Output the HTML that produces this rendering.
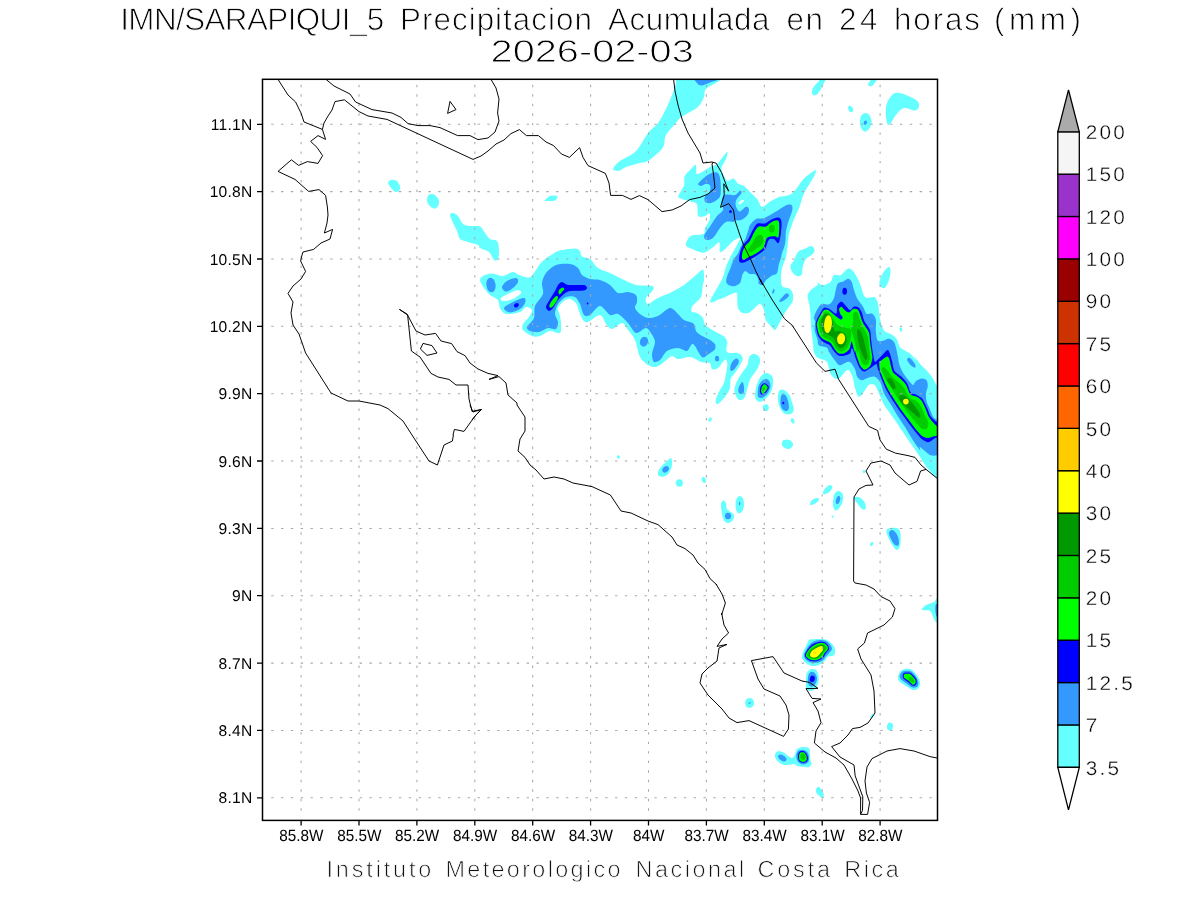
<!DOCTYPE html>
<html lang="es"><head><meta charset="utf-8"><title>IMN/SARAPIQUI_5 Precipitacion Acumulada en 24 horas (mm)</title>
<style>html,body{margin:0;padding:0;background:#fff}body{width:1200px;height:900px;overflow:hidden}</style></head>
<body>
<svg width="1200" height="900" viewBox="0 0 1200 900" style="display:block;font-family:'Liberation Sans',sans-serif;text-rendering:geometricPrecision;will-change:transform">
<rect width="1200" height="900" fill="#fff"/>
<defs><clipPath id="fc"><rect x="262.5" y="79.3" width="675.0" height="741.1"/></clipPath></defs>
<g clip-path="url(#fc)">
<g fill="#66FFFF">
<path d="M388.0 183.0 C387.8 181.5 389.7 180.4 391.0 180.0 C392.3 179.6 394.6 179.6 396.0 180.4 C397.4 181.2 399.0 183.4 399.6 185.0 C400.2 186.6 400.2 188.8 399.6 190.0 C399.0 191.2 397.3 192.2 396.0 192.0 C394.7 191.8 393.3 190.5 392.0 189.0 C390.7 187.5 388.2 184.5 388.0 183.0Z"/>
<path d="M427.0 199.0 C427.2 197.6 427.8 195.4 429.0 194.6 C430.2 193.8 432.4 193.7 434.0 194.4 C435.6 195.1 437.6 197.2 438.4 199.0 C439.2 200.8 439.2 203.4 438.6 205.0 C438.0 206.6 436.3 208.3 435.0 208.6 C433.7 208.9 432.2 207.9 431.0 207.0 C429.8 206.1 428.3 204.3 427.6 203.0 C426.9 201.7 426.8 200.4 427.0 199.0Z"/>
<path d="M450.0 215.0 C450.0 213.3 451.7 212.8 453.0 213.0 C454.3 213.2 456.3 214.2 458.0 216.0 C459.7 217.8 461.0 222.3 463.0 224.0 C465.0 225.7 467.2 225.6 470.0 226.0 C472.8 226.4 477.5 225.4 480.0 226.6 C482.5 227.8 483.3 230.9 485.0 233.0 C486.7 235.1 488.0 237.7 490.0 239.0 C492.0 240.3 495.5 239.2 497.0 241.0 C498.5 242.8 498.8 247.0 499.0 250.0 C499.2 253.0 498.8 257.3 498.0 259.0 C497.2 260.7 495.5 261.2 494.0 260.0 C492.5 258.8 491.3 254.0 489.0 252.0 C486.7 250.0 481.8 249.2 480.0 248.0 C478.2 246.8 480.0 246.0 478.0 245.0 C476.0 244.0 471.0 243.0 468.0 242.0 C465.0 241.0 461.8 240.8 460.0 239.0 C458.2 237.2 458.2 233.7 457.0 231.0 C455.8 228.3 454.2 225.7 453.0 223.0 C451.8 220.3 450.0 216.7 450.0 215.0Z"/>
<path d="M545.0 200.0 C545.7 199.2 548.0 196.7 550.0 196.0 C552.0 195.3 556.2 195.2 557.0 196.0 C557.8 196.8 556.8 199.8 555.0 200.6 C553.2 201.4 547.7 201.1 546.0 201.0 C544.3 200.9 544.3 200.8 545.0 200.0Z"/>
<path d="M553.0 255.0 C553.0 253.3 556.0 251.6 560.0 250.6 C564.0 249.6 573.5 248.3 577.0 249.0 C580.5 249.7 580.8 253.0 581.0 255.0 C581.2 257.0 581.5 260.0 578.0 261.0 C574.5 262.0 564.2 262.0 560.0 261.0 C555.8 260.0 553.0 256.7 553.0 255.0Z"/>
<path d="M613.4 168.0 C614.2 166.4 616.2 163.8 620.0 161.0 C623.8 158.2 631.3 155.7 636.0 151.0 C640.7 146.3 644.3 137.7 648.0 133.0 C651.7 128.3 655.0 127.0 658.0 123.0 C661.0 119.0 663.7 113.7 666.0 109.0 C668.3 104.3 670.3 99.3 672.0 95.0 C673.7 90.7 675.0 87.0 676.0 83.0 C677.0 79.0 670.3 73.0 678.0 71.0 C685.7 69.0 715.0 69.5 722.0 71.0 C729.0 72.5 722.7 77.0 720.0 80.0 C717.3 83.0 708.7 86.2 706.0 89.0 C703.3 91.8 705.3 94.0 704.0 97.0 C702.7 100.0 700.7 104.3 698.0 107.0 C695.3 109.7 691.0 111.2 688.0 113.0 C685.0 114.8 682.0 116.3 680.0 118.0 C678.0 119.7 678.3 120.2 676.0 123.0 C673.7 125.8 668.0 131.3 666.0 135.0 C664.0 138.7 665.0 142.3 664.0 145.0 C663.0 147.7 662.7 148.3 660.0 151.0 C657.3 153.7 651.3 159.0 648.0 161.0 C644.7 163.0 643.7 162.0 640.0 163.0 C636.3 164.0 629.3 165.7 626.0 167.0 C622.7 168.3 621.8 170.0 620.0 170.6 C618.2 171.2 616.1 171.0 615.0 170.6 C613.9 170.2 612.6 169.6 613.4 168.0Z"/>
<path d="M812.0 93.0 C811.8 91.6 812.4 89.0 813.6 87.0 C814.8 85.0 817.4 83.2 819.0 81.0 C820.6 78.8 821.5 75.2 823.0 74.0 C824.5 72.8 827.8 72.5 828.0 74.0 C828.2 75.5 825.5 80.0 824.0 83.0 C822.5 86.0 820.5 89.9 819.0 92.0 C817.5 94.1 816.2 95.2 815.0 95.4 C813.8 95.6 812.2 94.4 812.0 93.0Z"/>
<path d="M868.0 85.0 C867.7 84.2 869.0 82.3 870.0 81.0 C871.0 79.7 872.3 78.2 874.0 77.0 C875.7 75.8 879.7 73.3 880.0 74.0 C880.3 74.7 877.3 79.0 876.0 81.0 C874.7 83.0 873.3 85.3 872.0 86.0 C870.7 86.7 868.3 85.8 868.0 85.0Z"/>
<ellipse cx="850.6" cy="109.0" rx="2.3" ry="3.4" transform="rotate(-20 850.6 109.0)"/>
<path d="M860.0 123.0 C859.9 120.8 860.1 117.7 861.0 116.0 C861.9 114.3 864.1 113.0 865.6 113.0 C867.1 113.0 869.0 114.3 870.0 116.0 C871.0 117.7 871.8 120.8 871.6 123.0 C871.4 125.2 870.1 127.6 869.0 129.0 C867.9 130.4 866.2 131.6 865.0 131.6 C863.8 131.6 862.4 130.4 861.6 129.0 C860.8 127.6 860.1 125.2 860.0 123.0Z"/>
<path d="M887.0 123.0 C886.3 120.2 885.2 111.7 886.0 107.0 C886.8 102.3 889.7 97.3 892.0 95.0 C894.3 92.7 896.0 92.2 900.0 93.0 C904.0 93.8 912.8 97.8 916.0 100.0 C919.2 102.2 919.2 104.2 919.0 106.0 C918.8 107.8 917.5 110.3 915.0 110.6 C912.5 110.9 907.2 107.3 904.0 108.0 C900.8 108.7 898.3 112.3 896.0 115.0 C893.7 117.7 891.5 122.7 890.0 124.0 C888.5 125.3 887.7 125.8 887.0 123.0Z"/>
<path d="M679.5 198.0 C678.0 197.1 678.1 196.9 678.8 195.0 C679.4 193.1 683.1 188.1 684.0 185.2 C684.9 182.4 683.5 178.9 684.8 176.2 C686.0 173.6 690.6 169.4 692.2 167.7 C693.9 166.0 695.3 164.1 696.0 165.0 C696.7 165.9 695.6 173.1 696.8 174.0 C697.9 174.9 701.4 172.1 703.5 171.0 C705.6 169.9 709.0 167.5 711.0 166.5 C713.0 165.5 715.2 165.7 717.0 164.2 C718.8 162.8 721.4 158.6 723.0 156.8 C724.6 154.9 727.0 151.5 727.5 151.8 C728.0 152.1 726.9 156.6 726.0 159.0 C725.1 161.4 721.8 165.5 721.5 168.0 C721.2 170.5 722.9 173.6 723.8 175.5 C724.6 177.4 726.0 180.3 727.5 180.8 C729.0 181.2 731.9 178.1 733.5 178.5 C735.1 178.9 736.4 182.6 738.0 183.8 C739.6 184.9 742.0 184.5 744.0 186.0 C746.0 187.5 749.5 191.5 751.5 193.5 C753.5 195.5 755.9 197.5 757.5 199.5 C759.1 201.5 760.0 206.8 762.0 207.0 C764.0 207.2 768.5 202.5 771.0 201.0 C773.5 199.5 775.8 198.2 778.5 197.2 C781.2 196.3 786.5 196.0 789.0 195.0 C791.5 194.0 792.8 193.0 795.0 190.5 C797.2 188.0 801.0 181.5 804.0 178.5 C807.0 175.5 813.7 170.7 815.2 170.2 C816.8 169.8 816.2 172.0 814.5 175.5 C812.8 179.0 806.2 188.8 804.0 193.5 C801.8 198.2 801.1 202.9 799.5 207.0 C797.9 211.1 795.1 216.4 793.5 220.5 C791.9 224.6 789.9 229.9 789.0 234.0 C788.1 238.1 788.0 243.9 787.5 247.5 C787.0 251.1 786.5 255.2 785.7 258.2 C784.9 261.2 782.9 264.7 782.2 267.5 C781.5 270.3 781.0 274.0 781.0 276.8 C781.0 279.6 780.9 284.4 782.2 286.2 C783.4 287.9 787.6 287.4 789.2 288.5 C790.7 289.6 792.1 291.2 792.7 293.2 C793.2 295.1 793.4 299.1 792.7 301.3 C792.0 303.6 789.4 306.2 788.0 308.3 C786.6 310.4 784.6 313.2 783.3 315.3 C782.1 317.4 781.1 320.1 779.8 322.3 C778.6 324.5 776.6 329.4 775.2 329.9 C773.8 330.4 771.9 327.3 770.5 325.8 C769.1 324.3 766.7 321.9 765.8 320.0 C765.0 318.1 765.2 315.1 764.7 313.0 C764.1 310.9 763.2 307.3 762.3 306.0 C761.5 304.7 760.2 303.7 758.8 304.2 C757.4 304.8 754.6 308.2 753.0 309.5 C751.4 310.8 750.1 312.6 748.3 313.0 C746.6 313.4 742.9 313.3 741.3 312.4 C739.8 311.5 738.4 309.2 737.8 307.2 C737.2 305.2 737.4 301.2 737.2 299.0 C737.1 296.8 737.6 293.3 736.7 292.6 C735.7 291.9 732.8 293.5 730.8 294.3 C728.9 295.1 725.9 297.0 723.8 297.8 C721.7 298.7 718.6 299.5 716.8 300.2 C715.1 300.9 713.1 302.5 712.2 302.5 C711.2 302.5 709.7 302.3 710.4 300.2 C711.1 298.1 715.0 291.8 716.8 288.5 C718.7 285.2 721.3 281.3 722.7 278.0 C724.1 274.7 724.9 269.5 726.2 266.3 C727.4 263.2 730.9 255.8 730.8 257.0 C730.8 258.2 726.5 273.4 726.0 274.5 C725.5 275.6 726.8 266.7 727.5 264.0 C728.2 261.3 729.1 259.2 730.5 256.5 C731.9 253.8 735.0 248.8 736.5 246.0 C738.0 243.2 740.7 238.5 740.2 237.8 C739.8 237.0 735.6 239.2 733.5 240.8 C731.4 242.3 728.0 246.6 726.0 248.2 C724.0 249.9 721.0 252.9 720.0 252.0 C719.0 251.1 720.4 242.9 719.2 242.2 C718.1 241.6 714.9 245.9 712.5 247.5 C710.1 249.1 706.5 252.5 703.5 252.8 C700.5 253.0 694.8 250.0 692.2 249.0 C689.7 248.0 687.0 247.2 686.2 246.0 C685.5 244.8 686.2 242.3 687.0 240.8 C687.8 239.2 689.0 236.5 691.5 235.5 C694.0 234.5 701.5 235.1 703.5 234.0 C705.5 232.9 704.1 230.0 705.0 228.0 C705.9 226.0 708.8 222.8 709.5 220.5 C710.2 218.2 710.2 213.7 709.5 213.0 C708.8 212.3 706.7 215.6 705.0 216.0 C703.3 216.4 699.5 217.8 698.2 216.0 C697.0 214.2 698.2 206.2 696.8 204.0 C695.3 201.8 691.1 201.9 688.5 201.0 C685.9 200.1 681.0 198.9 679.5 198.0Z"/>
<path d="M790.5 265.5 C790.8 263.8 792.2 263.2 793.5 261.0 C794.8 258.8 796.2 254.0 798.0 252.0 C799.8 250.0 801.8 250.0 804.0 249.0 C806.2 248.0 809.8 245.8 811.5 246.0 C813.2 246.2 814.5 249.0 814.5 250.5 C814.5 252.0 813.0 253.5 811.5 255.0 C810.0 256.5 807.0 257.2 805.5 259.5 C804.0 261.8 803.1 266.0 802.5 268.5 C801.9 271.0 802.8 273.2 801.8 274.5 C800.8 275.8 798.1 276.5 796.5 276.0 C794.9 275.5 793.0 273.2 792.0 271.5 C791.0 269.8 790.2 267.2 790.5 265.5Z"/>
<path d="M480.0 280.0 C479.9 278.2 481.2 277.0 483.0 276.0 C484.8 275.0 489.1 273.6 492.0 273.6 C494.9 273.6 498.9 276.2 502.0 276.0 C505.1 275.8 510.3 272.1 513.0 272.0 C515.7 271.9 517.6 274.8 520.0 275.6 C522.4 276.4 526.9 278.0 529.0 277.6 C531.1 277.2 532.4 275.0 534.0 273.0 C535.6 271.0 537.9 266.4 540.0 264.0 C542.1 261.6 545.0 258.9 548.0 257.0 C551.0 255.1 555.6 252.2 560.0 251.0 C564.4 249.8 573.9 248.2 577.0 249.0 C580.1 249.8 579.0 254.5 581.0 256.0 C583.0 257.5 587.5 257.2 590.0 259.0 C592.5 260.8 595.0 265.9 598.0 268.0 C601.0 270.1 606.4 271.4 610.0 273.0 C613.6 274.6 618.1 277.2 622.0 279.0 C625.9 280.8 631.5 283.9 636.0 285.0 C640.5 286.1 649.5 285.2 652.0 286.0 C654.5 286.8 653.9 288.2 653.0 290.0 C652.1 291.8 646.8 295.9 646.0 298.0 C645.2 300.1 646.2 304.0 648.0 304.0 C649.8 304.0 654.7 299.6 658.0 298.0 C661.3 296.4 666.1 294.9 670.0 293.0 C673.9 291.1 680.1 287.7 684.0 285.0 C687.9 282.3 693.1 277.3 696.0 275.0 C698.9 272.7 701.8 268.9 703.0 269.6 C704.2 270.4 704.0 277.7 704.0 280.0 C704.0 282.3 703.3 282.5 702.8 285.0 C702.4 287.5 702.3 293.9 701.1 296.7 C699.9 299.5 696.1 302.1 694.7 303.7 C693.3 305.2 692.2 305.9 691.8 307.2 C691.3 308.4 691.0 311.0 691.8 311.8 C692.5 312.7 695.3 312.1 697.0 313.0 C698.7 313.9 701.6 315.9 702.8 317.7 C704.1 319.4 703.6 322.7 705.2 324.7 C706.7 326.6 710.5 328.8 713.3 330.5 C716.1 332.2 721.7 334.6 723.8 336.3 C725.9 338.1 727.0 340.2 727.3 342.2 C727.7 344.1 726.2 349.5 726.2 349.2 C726.2 348.8 727.3 340.0 727.3 340.0 C727.3 340.0 726.0 347.4 726.2 349.3 C726.3 351.3 726.9 352.3 728.5 352.8 C730.1 353.4 734.7 352.5 736.7 352.8 C738.6 353.2 740.5 354.1 741.3 355.2 C742.2 356.2 742.9 358.1 742.5 359.8 C742.1 361.6 740.2 364.7 739.0 366.8 C737.8 368.9 735.6 372.1 734.3 373.8 C733.1 375.6 731.5 376.2 730.8 378.5 C730.1 380.8 730.7 386.0 729.7 389.0 C728.6 392.0 725.7 396.1 723.8 398.3 C722.0 400.6 718.6 403.8 717.4 404.2 C716.2 404.5 715.4 402.6 715.7 400.7 C715.9 398.7 717.9 394.0 719.2 391.3 C720.4 388.7 722.8 386.0 723.8 383.2 C724.9 380.4 725.6 375.6 726.2 372.7 C726.7 369.7 727.5 365.3 727.3 363.3 C727.2 361.4 726.4 359.1 725.0 359.8 C723.6 360.5 719.9 366.6 718.0 368.0 C716.1 369.4 713.4 369.9 712.2 369.2 C710.9 368.5 711.4 364.4 709.8 363.3 C708.3 362.3 703.9 362.9 701.7 362.2 C699.4 361.5 696.4 359.5 694.7 358.7 C692.9 357.8 689.2 356.0 690.0 356.3 C690.8 356.7 700.0 360.9 700.0 361.0 C700.0 361.1 693.3 357.3 690.0 357.0 C686.7 356.7 680.7 359.1 678.0 359.0 C675.3 358.9 674.1 355.6 672.0 356.0 C669.9 356.4 666.4 360.4 664.0 362.0 C661.6 363.6 658.4 366.6 656.0 367.0 C653.6 367.4 650.4 366.5 648.0 365.0 C645.6 363.5 642.0 360.8 640.0 357.0 C638.0 353.2 636.8 344.1 635.0 340.0 C633.2 335.9 630.0 332.6 628.0 330.0 C626.0 327.4 624.4 323.1 622.0 323.0 C619.6 322.9 614.4 328.9 612.0 329.0 C609.6 329.1 607.8 326.1 606.0 324.0 C604.2 321.9 602.7 315.3 600.0 315.0 C597.3 314.7 590.5 321.2 588.0 322.0 C585.5 322.8 584.4 321.6 583.0 320.0 C581.6 318.4 580.0 313.6 579.0 311.0 C578.0 308.4 577.4 304.8 576.0 303.0 C574.6 301.2 571.8 299.3 570.0 299.0 C568.2 298.7 565.8 299.6 564.0 301.0 C562.2 302.4 558.6 305.8 558.0 308.0 C557.4 310.2 559.5 313.6 560.0 316.0 C560.5 318.4 561.0 321.4 561.0 324.0 C561.0 326.6 561.6 331.9 560.0 333.0 C558.4 334.1 553.0 330.6 550.0 331.0 C547.0 331.4 542.7 335.2 540.0 336.0 C537.3 336.8 534.5 336.9 532.0 336.0 C529.5 335.1 524.4 331.8 523.0 330.0 C521.6 328.2 522.1 325.9 523.0 324.0 C523.9 322.1 527.6 319.1 529.0 317.0 C530.4 314.9 532.5 311.5 532.0 310.0 C531.5 308.5 527.8 306.7 526.0 307.0 C524.2 307.3 523.0 310.9 520.0 312.0 C517.0 313.1 509.0 314.6 506.0 314.0 C503.0 313.4 501.2 310.1 500.0 308.0 C498.8 305.9 499.5 301.9 498.0 300.0 C496.5 298.1 492.1 296.8 490.0 295.0 C487.9 293.2 485.5 290.2 484.0 288.0 C482.5 285.8 480.1 281.8 480.0 280.0Z"/>
<path d="M749.5 356.3 C750.7 354.4 752.6 354.0 754.2 354.0 C755.7 354.0 757.9 355.0 758.8 356.3 C759.8 357.7 760.4 359.8 760.0 362.2 C759.6 364.5 758.1 367.6 756.5 370.3 C754.9 373.1 752.2 375.4 750.7 378.5 C749.1 381.6 748.1 385.9 747.2 389.0 C746.2 392.1 746.0 395.3 744.8 397.2 C743.7 399.0 741.5 400.1 740.2 400.1 C738.8 400.1 737.6 398.8 736.7 397.2 C735.7 395.5 734.3 392.7 734.3 390.2 C734.3 387.6 735.5 384.7 736.7 382.0 C737.8 379.3 739.6 376.6 741.3 373.8 C743.1 371.1 745.8 368.6 747.2 365.7 C748.5 362.8 748.3 358.3 749.5 356.3Z"/>
<path d="M755.9 399.5 C754.9 397.8 754.8 394.6 755.3 391.3 C755.8 388.0 757.3 382.7 758.8 379.7 C760.4 376.7 762.7 374.1 764.7 373.2 C766.6 372.4 769.1 373.3 770.5 374.4 C771.9 375.5 772.9 377.0 773.1 379.7 C773.3 382.3 772.7 387.2 771.7 390.2 C770.7 393.1 768.8 395.2 767.0 397.2 C765.2 399.1 763.0 401.4 761.2 401.8 C759.3 402.2 756.9 401.2 755.9 399.5Z"/>
<ellipse cx="765.8" cy="407.7" rx="3.0" ry="3.4" transform="rotate(0 765.8 407.7)"/>
<path d="M778.1 394.8 C778.3 392.7 778.8 390.9 779.8 390.2 C780.9 389.4 782.9 389.4 784.5 390.2 C786.1 390.9 788.0 393.1 789.2 394.8 C790.3 396.6 790.7 398.3 791.5 400.7 C792.3 403.0 793.8 406.7 793.8 408.8 C793.8 411.0 792.9 412.6 791.5 413.5 C790.1 414.4 787.4 414.7 785.7 414.1 C783.9 413.5 782.2 411.8 781.0 410.0 C779.8 408.2 778.9 405.5 778.4 403.0 C777.9 400.5 777.9 397.0 778.1 394.8Z"/>
<ellipse cx="710.0" cy="419.6" rx="1.5" ry="2.4" transform="rotate(35 710.0 419.6)"/>
<ellipse cx="792.7" cy="420.9" rx="1.8" ry="2.8" transform="rotate(-20 792.7 420.9)"/>
<path d="M782.2 442.7 C782.2 441.8 782.2 440.8 783.3 440.3 C784.5 439.9 787.6 439.6 789.2 440.1 C790.7 440.6 792.3 442.3 792.7 443.2 C793.1 444.2 793.1 445.2 791.5 445.6 C789.9 446.0 784.9 446.1 783.3 445.6 C781.8 445.1 782.2 443.5 782.2 442.7Z"/>
<path d="M807.6 296.2 C807.8 294.1 809.0 292.0 810.5 290.3 C812.0 288.7 816.5 286.3 817.5 285.1 C818.5 283.9 816.8 282.2 817.5 282.2 C818.2 282.2 820.2 285.1 822.2 285.1 C824.1 285.1 828.6 283.7 830.3 282.2 C832.1 280.7 832.3 276.2 833.8 275.2 C835.4 274.1 838.7 276.1 840.8 275.2 C842.9 274.2 846.1 269.4 847.8 268.8 C849.6 268.1 851.1 269.2 852.5 270.5 C853.9 271.8 855.9 275.2 857.2 277.5 C858.4 279.8 859.4 282.7 860.7 285.7 C861.9 288.6 863.2 295.6 865.3 297.3 C867.4 299.1 872.7 296.3 874.7 297.3 C876.6 298.4 877.5 301.7 878.2 304.3 C878.9 307.0 878.8 311.7 879.3 314.8 C879.9 318.0 880.8 322.8 881.7 325.3 C882.5 327.9 883.6 330.4 885.2 331.8 C886.7 333.1 890.4 333.5 892.2 334.7 C893.9 335.8 895.6 337.4 896.8 339.3 C898.1 341.3 898.4 345.4 900.3 347.5 C902.3 349.6 907.2 351.4 909.7 353.3 C912.1 355.3 916.0 360.0 916.7 360.3 C917.4 360.7 913.8 355.3 914.3 355.8 C914.9 356.4 918.4 361.9 920.2 364.0 C921.9 366.1 924.2 367.9 926.0 369.8 C927.8 371.8 930.3 374.6 931.8 376.8 C933.4 379.1 934.8 382.7 936.5 385.0 C938.2 387.3 942.5 381.5 943.5 392.0 C944.5 402.5 942.8 440.8 943.5 455.0 C944.2 469.2 948.9 483.5 948.0 487.0 C947.1 490.5 940.4 481.3 937.4 478.6 C934.4 475.9 930.6 472.2 928.0 469.0 C925.4 465.8 922.4 460.6 920.0 457.0 C917.6 453.4 912.5 445.8 912.0 445.0 C911.5 444.2 917.0 451.9 916.7 451.5 C916.3 451.1 911.8 445.1 909.7 442.2 C907.6 439.2 904.8 434.8 902.7 431.7 C900.6 428.5 897.6 424.0 895.7 421.2 C893.7 418.4 891.6 415.4 889.8 413.0 C888.1 410.6 885.6 407.6 884.0 404.8 C882.4 402.0 880.7 397.3 879.3 394.3 C877.9 391.4 876.2 386.4 874.7 385.0 C873.1 383.6 870.6 383.8 868.8 385.0 C867.1 386.2 864.6 391.4 863.0 393.2 C861.4 394.9 859.6 397.5 858.3 396.7 C857.1 395.8 855.7 390.3 854.8 387.3 C854.0 384.4 853.5 379.5 852.5 376.8 C851.5 374.2 849.8 369.7 847.8 369.8 C845.9 370.0 841.6 376.7 839.7 378.0 C837.7 379.3 836.4 379.3 835.0 378.6 C833.6 377.9 831.6 375.9 830.3 373.3 C829.1 370.8 828.6 363.9 826.8 361.7 C825.1 359.4 820.6 359.4 818.7 358.2 C816.7 356.9 814.0 353.4 814.0 353.5 C814.0 353.6 818.7 359.4 818.7 359.2 C818.7 359.0 814.9 354.8 814.0 352.2 C813.1 349.5 813.3 345.3 812.8 341.7 C812.4 338.0 811.4 331.7 811.1 327.7 C810.7 323.6 810.8 318.3 810.5 314.8 C810.2 311.3 809.8 307.1 809.3 304.3 C808.9 301.5 807.4 298.3 807.6 296.2Z"/>
<path d="M881.7 287.4 C880.7 286.7 879.3 285.4 879.3 283.3 C879.3 281.3 880.4 277.7 881.7 275.2 C882.9 272.6 885.6 269.4 886.9 268.2 C888.3 266.9 889.2 266.8 889.8 267.6 C890.4 268.4 890.6 270.6 890.4 272.8 C890.2 275.1 889.5 278.6 888.7 281.0 C887.8 283.4 886.3 286.3 885.2 287.4 C884.0 288.5 882.6 288.1 881.7 287.4Z"/>
<ellipse cx="900.9" cy="329.4" rx="1.4" ry="2.2" transform="rotate(-20 900.9 329.4)"/>
<ellipse cx="618.4" cy="457.0" rx="1.4" ry="1.8" transform="rotate(-20 618.4 457.0)"/>
<path d="M658.0 473.0 C658.2 471.7 658.7 469.8 660.0 468.0 C661.3 466.2 664.2 463.7 666.0 462.0 C667.8 460.3 670.0 457.5 671.0 458.0 C672.0 458.5 672.3 462.5 672.0 465.0 C671.7 467.5 670.3 471.1 669.0 473.0 C667.7 474.9 665.7 476.1 664.0 476.6 C662.3 477.1 660.0 476.6 659.0 476.0 C658.0 475.4 657.8 474.3 658.0 473.0Z"/>
<ellipse cx="679.4" cy="483.0" rx="3.5" ry="3.8" transform="rotate(0 679.4 483.0)"/>
<ellipse cx="703.6" cy="480.0" rx="1.6" ry="3.0" transform="rotate(-25 703.6 480.0)"/>
<path d="M721.0 505.0 C721.0 502.1 722.2 500.9 723.0 500.6 C723.8 500.3 725.3 501.6 726.0 503.0 C726.7 504.4 725.7 507.0 727.0 509.0 C728.3 511.0 733.2 513.0 734.0 515.0 C734.8 517.0 733.2 519.7 732.0 521.0 C730.8 522.3 728.5 523.5 727.0 523.0 C725.5 522.5 724.0 521.0 723.0 518.0 C722.0 515.0 721.0 507.9 721.0 505.0Z"/>
<ellipse cx="787.4" cy="444.4" rx="5.5" ry="4.5" transform="rotate(10 787.4 444.4)"/>
<ellipse cx="704.0" cy="480.0" rx="1.8" ry="3.0" transform="rotate(-15 704.0 480.0)"/>
<path d="M735.6 505.0 C735.6 503.1 735.7 500.5 736.4 499.0 C737.1 497.5 738.5 496.1 739.6 496.0 C740.7 495.9 742.3 497.1 743.0 498.6 C743.7 500.1 744.1 502.9 744.0 505.0 C743.9 507.1 743.2 509.6 742.4 511.0 C741.6 512.4 740.0 513.5 739.0 513.4 C738.0 513.3 737.0 512.0 736.4 510.6 C735.8 509.2 735.6 506.9 735.6 505.0Z"/>
<path d="M823.0 493.4 C822.9 492.5 823.9 490.0 825.0 488.6 C826.1 487.2 828.4 485.3 829.6 485.0 C830.8 484.7 832.3 485.6 832.4 486.6 C832.5 487.6 831.5 489.8 830.4 491.0 C829.3 492.2 826.8 493.6 825.6 494.0 C824.4 494.4 823.1 494.3 823.0 493.4Z"/>
<path d="M810.0 504.0 C810.1 503.2 810.8 501.0 812.0 500.0 C813.2 499.0 815.8 498.1 817.0 498.0 C818.2 497.9 819.2 498.6 819.0 499.4 C818.8 500.2 817.2 502.1 816.0 503.0 C814.8 503.9 812.6 504.8 811.6 505.0 C810.6 505.2 809.9 504.8 810.0 504.0Z"/>
<path d="M833.0 503.0 C833.1 500.8 833.2 497.0 834.0 495.0 C834.8 493.0 836.6 491.3 838.0 491.0 C839.4 490.7 841.6 491.9 842.4 493.4 C843.2 494.9 843.4 497.7 843.0 500.0 C842.6 502.3 841.2 505.2 840.0 507.0 C838.8 508.8 837.1 510.4 836.0 510.6 C834.9 510.8 834.1 509.3 833.6 508.0 C833.1 506.7 832.9 505.2 833.0 503.0Z"/>
<ellipse cx="832.6" cy="516.6" rx="1.0" ry="1.2" transform="rotate(0 832.6 516.6)"/>
<path d="M854.0 497.4 C854.5 496.5 858.2 496.5 860.0 497.4 C861.8 498.3 864.1 501.1 865.0 503.0 C865.9 504.9 866.1 508.0 865.6 509.0 C865.1 510.0 863.4 510.0 862.0 509.0 C860.6 508.0 858.3 504.9 857.0 503.0 C855.7 501.1 853.5 498.3 854.0 497.4Z"/>
<ellipse cx="864.0" cy="471.4" rx="1.3" ry="1.5" transform="rotate(0 864.0 471.4)"/>
<path d="M886.4 531.0 C886.6 529.2 888.1 528.4 890.0 528.0 C891.9 527.6 896.2 527.4 898.0 528.6 C899.8 529.8 900.3 532.1 900.6 535.0 C900.9 537.9 900.6 543.5 900.0 546.0 C899.4 548.5 898.2 550.0 897.0 550.0 C895.8 550.0 894.3 547.8 893.0 546.0 C891.7 544.2 890.1 541.5 889.0 539.0 C887.9 536.5 886.2 532.8 886.4 531.0Z"/>
<ellipse cx="871.6" cy="544.0" rx="1.4" ry="2.2" transform="rotate(40 871.6 544.0)"/>
<path d="M922.0 610.0 C921.3 609.0 924.0 606.3 926.0 605.0 C928.0 603.7 932.0 603.3 934.0 602.0 C936.0 600.7 936.0 597.8 938.0 597.0 C940.0 596.2 944.7 592.3 946.0 597.0 C947.3 601.7 947.4 620.7 946.0 625.0 C944.6 629.3 939.4 624.0 937.4 623.0 C935.4 622.0 935.2 621.0 934.0 619.0 C932.8 617.0 932.0 612.5 930.0 611.0 C928.0 609.5 922.7 611.0 922.0 610.0Z"/>
<path d="M802.1 655.7 C802.2 654.5 802.5 653.5 803.2 651.8 C803.9 650.1 805.5 647.4 806.3 645.6 C807.2 643.7 807.5 642.0 808.3 640.9 C809.1 639.8 808.9 639.5 811.0 639.2 C813.2 638.9 818.5 638.9 821.1 638.9 C823.7 639.0 824.9 639.0 826.6 639.7 C828.3 640.4 829.9 641.9 831.2 643.2 C832.6 644.6 834.2 646.1 834.7 647.9 C835.3 649.7 835.2 652.8 834.7 654.1 C834.3 655.5 833.1 655.7 832.0 656.1 C830.9 656.5 829.2 655.9 828.1 656.5 C827.1 657.0 826.7 658.5 825.8 659.6 C824.9 660.6 824.1 661.7 822.7 662.7 C821.3 663.7 819.2 664.9 817.2 665.4 C815.3 665.9 813.0 666.3 811.0 665.8 C809.1 665.3 807.0 663.9 805.6 662.7 C804.1 661.5 803.0 660.0 802.5 658.8 C801.9 657.6 801.9 656.8 802.1 655.7Z"/>
<path d="M806.0 678.2 C806.1 676.7 806.2 674.9 806.7 673.6 C807.3 672.2 808.1 670.9 809.1 670.1 C810.0 669.3 811.4 668.9 812.6 668.9 C813.7 668.9 815.2 669.3 816.1 670.1 C817.0 670.9 817.6 672.2 818.0 673.6 C818.5 674.9 818.8 676.6 818.8 678.2 C818.8 679.9 818.5 682.1 818.0 683.7 C817.5 685.3 816.6 686.4 815.7 687.6 C814.8 688.8 813.9 690.2 812.6 690.7 C811.3 691.2 809.0 690.8 807.9 690.3 C806.8 689.8 806.3 688.8 806.0 687.6 C805.6 686.4 806.0 684.5 806.0 682.9 C806.0 681.4 805.8 679.8 806.0 678.2Z"/>
<ellipse cx="749.6" cy="703.0" rx="4.5" ry="5.0" transform="rotate(0 749.6 703.0)"/>
<path d="M898.1 677.2 C898.2 675.9 898.7 674.1 899.4 672.8 C900.2 671.5 901.0 670.1 902.8 669.4 C904.5 668.8 908.1 668.5 910.0 668.9 C911.9 669.3 912.6 670.4 913.9 671.7 C915.2 673.0 916.8 675.0 917.8 676.7 C918.8 678.3 919.7 680.0 920.0 681.7 C920.3 683.3 920.0 685.4 919.4 686.7 C918.9 688.0 917.9 688.9 916.7 689.4 C915.5 690.0 913.8 690.2 912.2 689.7 C910.6 689.3 909.0 687.7 907.2 686.7 C905.5 685.6 903.1 684.4 901.7 683.3 C900.2 682.3 899.2 681.6 898.6 680.6 C898.0 679.5 897.9 678.5 898.1 677.2Z"/>
<ellipse cx="890.0" cy="726.6" rx="3.0" ry="4.0" transform="rotate(10 890.0 726.6)"/>
<ellipse cx="872.0" cy="716.0" rx="1.2" ry="2.8" transform="rotate(35 872.0 716.0)"/>
<path d="M775.0 754.7 C775.2 753.5 775.8 752.2 776.7 751.7 C777.5 751.1 778.7 751.1 780.0 751.3 C781.3 751.6 783.1 752.4 784.7 753.3 C786.2 754.2 788.0 755.9 789.3 756.7 C790.7 757.4 791.7 758.0 792.7 757.7 C793.6 757.3 794.4 755.9 795.0 754.7 C795.6 753.4 795.6 751.2 796.3 750.0 C797.1 748.8 797.8 748.2 799.3 747.7 C800.8 747.2 803.7 746.8 805.3 747.0 C807.0 747.2 808.6 747.4 809.3 748.7 C810.1 749.9 809.8 752.8 810.0 754.7 C810.2 756.6 810.1 758.5 810.3 760.0 C810.6 761.5 811.7 762.6 811.7 763.7 C811.6 764.7 810.6 765.7 810.0 766.3 C809.4 766.9 809.3 767.3 808.0 767.3 C806.7 767.4 803.7 766.8 802.0 766.7 C800.3 766.5 799.3 766.8 798.0 766.3 C796.7 765.9 795.3 764.3 794.0 764.0 C792.7 763.7 791.8 764.6 790.0 764.7 C788.2 764.8 785.2 765.1 783.3 764.7 C781.4 764.2 779.9 763.0 778.7 762.0 C777.4 761.0 776.3 759.9 775.7 758.7 C775.1 757.4 774.8 755.8 775.0 754.7Z"/>
<path d="M816.0 789.3 C816.3 788.4 817.3 787.3 818.0 787.0 C818.7 786.7 819.1 786.7 820.0 787.7 C820.9 788.6 822.7 791.2 823.3 792.7 C823.9 794.2 823.9 795.8 823.7 796.7 C823.4 797.5 822.5 797.9 821.7 797.7 C820.8 797.4 819.6 796.2 818.7 795.3 C817.8 794.5 816.8 793.7 816.3 792.7 C815.9 791.7 815.7 790.3 816.0 789.3Z"/>
</g>
<g fill="#FFFFFF">
<ellipse cx="741.2" cy="202.0" rx="3.1" ry="1.2" transform="rotate(-35 741.2 202.0)"/>
<path d="M501.0 298.0 C502.0 296.8 506.2 294.9 509.0 293.6 C511.8 292.3 516.0 290.1 518.0 290.0 C520.0 289.9 521.8 291.5 521.0 293.0 C520.2 294.5 516.0 297.7 513.0 299.0 C510.0 300.3 505.0 301.2 503.0 301.0 C501.0 300.8 500.0 299.2 501.0 298.0Z"/>
</g>
<g fill="#3399FF">
<path d="M693.0 73.0 C689.2 75.0 695.5 80.9 697.0 83.0 C698.5 85.1 699.8 85.5 702.0 85.4 C704.2 85.3 706.8 83.8 710.0 82.6 C713.2 81.4 719.3 79.9 721.0 78.0 C722.7 76.1 724.7 71.8 720.0 71.0 C715.3 70.2 696.8 71.0 693.0 73.0Z"/>
<ellipse cx="865.3" cy="122.6" rx="1.6" ry="2.2" transform="rotate(20 865.3 122.6)"/>
<path d="M698.2 183.8 C698.9 182.2 702.9 178.8 705.0 177.0 C707.1 175.2 709.0 174.0 711.0 173.2 C713.0 172.5 715.5 171.8 717.0 172.5 C718.5 173.2 719.4 175.0 720.0 177.8 C720.6 180.5 720.8 185.9 720.8 189.0 C720.8 192.1 720.9 194.5 720.0 196.5 C719.1 198.5 717.2 199.9 715.5 201.0 C713.8 202.1 711.2 203.1 709.5 203.2 C707.8 203.4 705.8 202.9 705.0 201.8 C704.2 200.6 704.2 198.1 705.0 196.5 C705.8 194.9 708.6 193.8 709.5 192.0 C710.4 190.2 710.8 187.4 710.2 186.0 C709.8 184.6 708.0 183.8 706.5 183.8 C705.0 183.8 702.6 186.0 701.2 186.0 C699.9 186.0 697.6 185.2 698.2 183.8Z"/>
<path d="M724.5 195.0 C726.8 193.8 732.4 195.8 735.0 195.0 C737.6 194.2 739.2 190.8 740.2 190.5 C741.3 190.2 741.9 192.0 741.3 193.5 C740.7 195.0 737.4 197.5 736.5 199.5 C735.6 201.5 735.2 203.5 735.8 205.5 C736.2 207.5 737.9 211.2 739.5 211.5 C741.1 211.8 744.0 207.5 745.5 207.0 C747.0 206.5 748.4 207.2 748.8 208.5 C749.2 209.8 748.9 212.6 747.8 214.5 C746.6 216.4 743.9 218.8 741.8 219.8 C739.6 220.8 736.4 220.1 735.0 220.5 C733.6 220.9 735.0 221.8 733.5 222.0 C732.0 222.2 728.2 221.0 726.0 222.0 C723.8 223.0 722.1 225.4 720.0 228.0 C717.9 230.6 715.5 235.8 713.2 237.8 C711.0 239.8 708.0 240.4 706.5 240.0 C705.0 239.6 703.5 238.0 704.2 235.5 C705.0 233.0 708.9 228.2 711.0 225.0 C713.1 221.8 715.0 218.5 717.0 216.0 C719.0 213.5 722.2 212.2 723.0 210.0 C723.8 207.8 721.2 205.0 721.5 202.5 C721.8 200.0 722.2 196.2 724.5 195.0Z"/>
<path d="M750.0 225.0 C751.1 223.4 754.0 220.0 756.0 219.0 C758.0 218.0 761.2 218.9 763.5 218.2 C765.8 217.6 768.8 215.7 771.0 214.5 C773.2 213.3 776.0 211.5 778.5 210.0 C781.0 208.5 785.5 205.4 787.5 204.8 C789.5 204.1 791.3 204.5 792.0 205.5 C792.7 206.5 792.6 209.0 792.0 211.5 C791.4 214.0 789.1 219.1 788.2 222.0 C787.4 224.9 786.5 227.8 786.0 231.0 C785.5 234.2 785.9 239.4 785.2 243.0 C784.6 246.6 782.0 253.1 781.5 255.0 C781.0 256.9 782.0 254.3 781.6 255.8 C781.2 257.4 779.4 262.5 778.7 265.2 C778.0 267.8 778.0 271.8 776.9 273.3 C775.9 274.9 773.3 274.6 771.7 275.7 C770.0 276.7 767.1 278.9 765.8 280.3 C764.5 281.7 764.0 284.5 762.9 285.0 C761.9 285.5 759.5 284.7 758.8 283.8 C758.1 283.0 758.8 280.6 758.2 279.2 C757.7 277.8 756.6 275.3 755.3 274.5 C754.0 273.7 751.0 274.4 749.5 273.9 C748.0 273.4 746.5 270.9 745.4 271.0 C744.4 271.1 743.3 272.8 742.5 274.5 C741.7 276.2 741.4 280.9 740.2 282.7 C738.9 284.4 736.1 285.8 734.3 286.2 C732.6 286.5 729.7 285.7 728.5 285.0 C727.3 284.3 726.3 282.9 726.2 281.5 C726.0 280.1 726.7 277.6 727.3 275.7 C727.9 273.7 729.2 271.1 730.2 268.7 C731.3 266.2 734.3 259.6 734.3 259.3 C734.4 259.1 730.6 267.0 730.5 267.0 C730.4 267.0 732.4 261.5 733.5 259.5 C734.6 257.5 736.9 255.5 738.0 253.5 C739.1 251.5 739.9 248.2 741.0 246.0 C742.1 243.8 744.4 241.0 745.5 238.5 C746.6 236.0 747.8 231.5 748.5 229.5 C749.2 227.5 748.9 226.6 750.0 225.0Z"/>
<path d="M779.2 300.8 C779.5 300.0 781.0 298.5 782.2 297.2 C783.3 296.0 785.1 293.8 786.2 293.4 C787.4 293.0 788.7 294.2 788.9 294.9 C789.1 295.7 788.3 296.9 787.4 297.8 C786.5 298.8 784.5 300.1 783.3 300.8 C782.2 301.4 781.1 301.9 780.4 301.9 C779.7 301.9 779.0 301.5 779.2 300.8Z"/>
<ellipse cx="773.4" cy="291.4" rx="1.0" ry="2.4" transform="rotate(15 773.4 291.4)"/>
<ellipse cx="491.0" cy="285.0" rx="4.6" ry="7.4" transform="rotate(-8 491.0 285.0)"/>
<path d="M502.0 287.0 C502.2 285.2 504.7 282.5 507.0 281.0 C509.3 279.5 514.2 277.8 516.0 278.0 C517.8 278.2 518.5 280.3 518.0 282.0 C517.5 283.7 515.0 286.4 513.0 288.0 C511.0 289.6 507.8 291.8 506.0 291.6 C504.2 291.4 501.8 288.8 502.0 287.0Z"/>
<path d="M504.0 308.0 C504.5 306.3 509.7 303.7 513.0 302.0 C516.3 300.3 522.0 297.8 524.0 298.0 C526.0 298.2 525.7 301.2 525.0 303.0 C524.3 304.8 522.5 307.4 520.0 309.0 C517.5 310.6 512.7 312.6 510.0 312.4 C507.3 312.2 503.5 309.7 504.0 308.0Z"/>
<path d="M527.0 327.0 C527.6 325.1 532.8 321.1 534.0 318.0 C535.2 314.9 533.6 309.6 535.0 306.0 C536.4 302.4 542.0 297.4 543.0 294.0 C544.0 290.6 541.5 286.1 542.0 283.0 C542.5 279.9 543.9 275.7 546.0 273.0 C548.1 270.3 552.4 266.4 556.0 265.0 C559.6 263.6 566.7 263.6 570.0 264.0 C573.3 264.4 576.2 266.4 578.0 268.0 C579.8 269.6 580.2 273.4 582.0 275.0 C583.8 276.6 587.3 278.2 590.0 279.0 C592.7 279.8 597.0 279.1 600.0 280.0 C603.0 280.9 607.3 283.1 610.0 285.0 C612.7 286.9 615.3 291.9 618.0 293.0 C620.7 294.1 625.3 291.7 628.0 292.0 C630.7 292.3 634.6 293.5 636.0 295.0 C637.4 296.5 637.1 300.1 637.0 302.0 C636.9 303.9 634.5 306.2 635.0 308.0 C635.5 309.8 638.0 312.5 640.0 314.0 C642.0 315.5 645.3 317.7 648.0 318.0 C650.7 318.3 654.7 317.5 658.0 316.0 C661.3 314.5 667.0 308.3 670.0 308.0 C673.0 307.7 675.9 312.2 678.0 314.0 C680.1 315.8 681.7 318.6 684.0 320.0 C686.3 321.4 691.6 321.8 693.5 323.5 C695.4 325.2 695.0 329.7 696.4 331.7 C697.8 333.6 700.8 335.1 702.8 336.3 C704.8 337.6 708.0 338.6 709.8 339.8 C711.7 341.1 714.3 343.1 715.1 344.5 C715.9 345.9 715.1 349.3 715.1 349.2 C715.1 349.0 715.1 343.5 715.1 343.5 C715.1 343.5 716.0 347.8 715.1 349.3 C714.1 350.9 710.5 352.8 708.7 354.0 C706.8 355.2 704.4 357.9 702.8 357.5 C701.3 357.1 699.4 353.6 698.2 351.7 C696.9 349.7 694.1 343.9 694.7 344.7 C695.2 345.5 702.2 357.1 702.0 357.0 C701.8 356.9 695.2 344.9 693.0 344.0 C690.8 343.1 689.2 350.4 687.0 351.0 C684.8 351.6 681.0 348.0 678.0 348.0 C675.0 348.0 669.7 349.2 667.0 351.0 C664.3 352.8 662.0 358.4 660.0 360.0 C658.0 361.6 655.2 362.9 654.0 362.0 C652.8 361.1 651.9 357.0 652.0 354.0 C652.1 351.0 655.1 345.0 655.0 342.0 C654.9 339.0 653.0 336.1 651.6 334.0 C650.2 331.9 648.3 328.1 646.0 328.0 C643.7 327.9 638.7 333.8 636.0 333.0 C633.3 332.2 630.7 325.9 628.0 323.0 C625.3 320.1 620.7 315.2 618.0 314.0 C615.3 312.8 612.7 316.2 610.0 315.0 C607.3 313.8 603.0 306.0 600.0 306.0 C597.0 306.0 592.4 313.6 590.0 315.0 C587.6 316.4 585.5 316.6 584.0 315.0 C582.5 313.4 581.4 306.7 580.0 304.0 C578.6 301.3 577.1 298.1 575.0 297.0 C572.9 295.9 568.5 295.9 566.0 297.0 C563.5 298.1 559.6 301.4 558.0 304.0 C556.4 306.6 555.0 311.3 555.0 314.0 C555.0 316.7 557.9 319.8 558.0 322.0 C558.1 324.2 557.5 328.1 556.0 329.0 C554.5 329.9 550.5 327.6 548.0 328.0 C545.5 328.4 541.7 331.6 539.0 332.0 C536.3 332.4 531.8 331.8 530.0 331.0 C528.2 330.2 526.4 328.9 527.0 327.0Z"/>
<ellipse cx="644.0" cy="341.6" rx="4.0" ry="5.0" transform="rotate(20 644.0 341.6)"/>
<path d="M715.4 356.3 C716.0 355.6 718.0 355.6 718.6 356.3 C719.2 357.1 719.5 360.0 718.9 360.8 C718.4 361.5 716.0 361.5 715.4 360.8 C714.8 360.0 714.9 357.1 715.4 356.3Z"/>
<path d="M730.2 369.2 C730.2 367.9 730.5 365.1 731.4 363.3 C732.3 361.6 734.3 359.2 735.5 358.7 C736.7 358.1 737.9 359.1 738.4 359.8 C738.9 360.6 739.1 361.8 738.4 363.3 C737.7 364.9 735.5 367.9 734.3 369.2 C733.2 370.4 732.1 370.9 731.4 370.9 C730.7 370.9 730.2 370.4 730.2 369.2Z"/>
<path d="M738.4 391.3 C738.2 390.1 738.3 388.2 739.0 386.7 C739.7 385.1 741.7 382.0 742.5 382.0 C743.3 382.0 743.7 384.9 743.9 386.7 C744.1 388.4 744.3 391.3 743.7 392.5 C743.0 393.7 741.0 394.1 740.2 393.9 C739.3 393.7 738.6 392.5 738.4 391.3Z"/>
<path d="M757.7 394.8 C757.6 392.8 757.9 388.0 758.8 385.5 C759.8 383.0 761.9 380.6 763.5 379.7 C765.1 378.7 767.0 378.7 768.2 379.7 C769.3 380.6 770.5 383.4 770.5 385.5 C770.5 387.6 769.3 390.6 768.2 392.5 C767.0 394.4 765.0 396.3 763.5 397.2 C762.0 398.0 760.4 398.1 759.4 397.8 C758.4 397.4 757.8 396.9 757.7 394.8Z"/>
<path d="M780.4 400.7 C780.6 398.9 780.8 395.8 781.6 394.8 C782.4 393.9 784.0 393.9 785.1 394.8 C786.2 395.8 787.4 398.5 788.0 400.7 C788.6 402.8 789.1 406.0 788.9 407.7 C788.7 409.4 787.9 410.6 786.8 410.9 C785.8 411.2 783.8 410.4 782.8 409.4 C781.7 408.5 781.2 406.8 780.8 405.3 C780.4 403.9 780.3 402.4 780.4 400.7Z"/>
<path d="M815.2 321.8 C815.1 319.9 813.6 319.1 814.0 317.2 C814.4 315.2 816.3 311.0 817.5 309.0 C818.7 307.0 820.4 304.4 822.2 303.8 C823.9 303.1 827.4 305.1 829.2 304.3 C830.9 303.5 832.6 301.5 833.8 298.5 C835.1 295.5 835.9 287.0 837.3 284.5 C838.7 282.0 841.5 282.5 843.2 281.6 C844.8 280.7 847.1 278.6 848.4 278.7 C849.7 278.8 851.1 280.6 851.9 282.2 C852.7 283.7 852.9 286.7 853.7 289.2 C854.5 291.6 855.8 295.9 857.2 298.5 C858.6 301.1 861.6 304.4 863.0 306.7 C864.4 308.9 865.1 312.6 866.5 313.7 C867.9 314.7 870.9 312.8 872.3 313.7 C873.7 314.5 875.3 317.1 875.8 319.5 C876.4 321.9 875.6 326.9 875.8 330.0 C876.1 333.1 876.4 338.9 877.6 340.5 C878.8 342.1 882.3 340.8 884.0 340.5 C885.7 340.2 887.1 338.4 888.7 338.8 C890.2 339.1 893.1 340.1 894.5 342.8 C895.9 345.6 897.3 353.8 898.0 357.0 C898.7 360.2 898.5 361.7 899.2 364.0 C899.9 366.3 901.3 369.7 902.7 372.2 C904.1 374.6 906.9 378.4 908.5 380.3 C910.1 382.3 912.1 384.8 913.2 385.0 C914.2 385.2 914.3 382.5 915.5 381.5 C916.7 380.5 919.7 378.8 921.3 378.6 C923.0 378.4 925.6 379.2 926.6 380.3 C927.5 381.5 927.8 384.2 927.8 386.2 C927.7 388.1 926.2 390.9 926.0 393.2 C925.8 395.4 926.1 399.1 926.6 401.3 C927.1 403.6 928.5 406.1 929.5 408.3 C930.5 410.6 931.9 414.8 933.0 416.5 C934.1 418.2 935.5 419.1 937.1 420.0 C938.7 420.9 942.5 417.8 943.5 422.3 C944.5 426.9 944.4 445.4 943.5 450.3 C942.6 455.2 939.4 454.3 937.4 455.0 C935.4 455.7 932.6 456.2 930.0 455.0 C927.4 453.8 921.5 447.7 920.0 447.0 C918.5 446.3 921.4 451.6 920.2 450.3 C919.0 449.1 914.3 442.2 912.0 438.7 C909.7 435.2 907.1 430.3 905.0 427.0 C902.9 423.7 900.1 419.8 898.0 416.5 C895.9 413.2 893.1 408.3 891.0 404.8 C888.9 401.3 885.6 396.5 884.0 393.2 C882.4 389.8 881.9 385.1 880.5 382.7 C879.1 380.2 876.6 377.5 874.7 376.8 C872.7 376.1 869.6 377.5 867.7 378.0 C865.7 378.5 863.4 380.5 861.8 380.3 C860.3 380.2 858.2 378.6 857.2 376.8 C856.1 375.1 856.1 370.9 854.8 368.7 C853.6 366.4 851.3 362.2 849.0 361.7 C846.7 361.1 841.8 365.3 839.7 365.2 C837.6 365.0 836.6 362.4 835.0 360.5 C833.4 358.6 830.4 354.3 829.2 352.3 C827.9 350.4 828.4 348.6 826.8 347.5 C825.3 346.4 820.1 346.4 818.7 345.2 C817.3 343.9 818.1 341.6 817.5 339.3 C816.9 337.1 814.9 332.6 814.6 330.0 C814.2 327.4 815.3 323.8 815.2 321.8Z"/>
<path d="M907.3 358.8 C907.7 358.2 909.0 357.3 910.2 358.2 C911.5 359.0 914.1 362.4 914.9 364.0 C915.8 365.6 915.8 367.1 915.3 367.5 C914.8 367.9 913.2 367.3 912.0 366.3 C910.8 365.4 908.7 362.9 907.9 361.7 C907.1 360.4 906.9 359.3 907.3 358.8Z"/>
<ellipse cx="665.6" cy="469.4" rx="3.6" ry="2.7" transform="rotate(-40 665.6 469.4)"/>
<ellipse cx="728.0" cy="516.0" rx="3.0" ry="3.2" transform="rotate(0 728.0 516.0)"/>
<ellipse cx="739.6" cy="503.6" rx="0.7" ry="1.8" transform="rotate(0 739.6 503.6)"/>
<ellipse cx="838.0" cy="500.0" rx="2.0" ry="4.2" transform="rotate(15 838.0 500.0)"/>
<path d="M889.0 533.0 C889.2 531.5 890.8 530.0 892.0 530.0 C893.2 530.0 894.9 531.5 896.0 533.0 C897.1 534.5 898.2 537.0 898.6 539.0 C899.0 541.0 899.2 544.0 898.6 545.0 C898.0 546.0 896.3 546.0 895.0 545.0 C893.7 544.0 892.0 541.0 891.0 539.0 C890.0 537.0 888.8 534.5 889.0 533.0Z"/>
<path d="M935.6 605.0 C936.0 603.5 936.3 604.0 938.0 604.0 C939.7 604.0 944.7 602.7 946.0 605.0 C947.3 607.3 947.3 615.8 946.0 618.0 C944.7 620.2 939.7 618.8 938.0 618.0 C936.3 617.2 936.0 615.2 935.6 613.0 C935.2 610.8 935.2 606.5 935.6 605.0Z"/>
<path d="M804.0 654.9 C804.0 653.5 804.7 652.7 805.6 651.0 C806.5 649.3 808.2 646.3 809.5 644.8 C810.8 643.2 811.7 642.5 813.3 641.7 C815.0 640.9 817.5 640.2 819.6 640.1 C821.6 640.0 824.1 640.2 825.8 640.9 C827.5 641.5 828.7 642.7 829.7 644.0 C830.7 645.3 832.2 647.1 832.0 648.7 C831.9 650.2 829.9 652.0 828.9 653.3 C827.9 654.6 826.8 655.3 825.8 656.5 C824.8 657.6 824.2 659.3 822.7 660.4 C821.1 661.4 818.5 662.4 816.5 662.7 C814.4 663.0 812.0 662.8 810.2 662.3 C808.4 661.8 806.6 660.8 805.6 659.6 C804.5 658.3 804.0 656.3 804.0 654.9Z"/>
<path d="M807.9 678.2 C808.0 677.0 808.2 675.4 808.7 674.4 C809.2 673.3 810.1 672.3 811.0 672.0 C811.9 671.7 813.2 671.8 814.1 672.4 C815.0 673.1 816.0 674.6 816.5 675.9 C816.9 677.3 817.1 679.2 816.8 680.6 C816.6 682.0 815.7 683.4 814.9 684.5 C814.1 685.5 812.8 686.7 811.8 686.8 C810.8 686.9 809.7 686.0 809.1 685.3 C808.4 684.5 808.1 683.3 807.9 682.1 C807.7 681.0 807.8 679.5 807.9 678.2Z"/>
<ellipse cx="749.6" cy="703.0" rx="1.6" ry="0.6" transform="rotate(-10 749.6 703.0)"/>
<path d="M899.7 677.2 C899.5 676.0 900.1 674.4 900.8 673.3 C901.5 672.3 902.4 671.5 903.9 671.1 C905.4 670.7 908.3 670.6 910.0 671.1 C911.7 671.6 912.8 672.8 913.9 673.9 C915.0 675.0 915.9 676.4 916.7 677.8 C917.4 679.2 918.1 680.8 918.3 682.2 C918.5 683.6 918.3 685.2 917.8 686.1 C917.3 687.0 916.3 687.3 915.3 687.5 C914.3 687.7 913.0 687.8 911.7 687.2 C910.3 686.6 908.8 685.0 907.2 683.9 C905.6 682.8 903.5 681.7 902.2 680.6 C901.0 679.4 900.0 678.4 899.7 677.2Z"/>
<ellipse cx="782.3" cy="758.0" rx="4.6" ry="2.6" transform="rotate(32 782.3 758.0)"/>
<path d="M796.3 757.3 C796.2 756.0 796.2 754.5 796.7 753.3 C797.2 752.2 798.1 750.9 799.3 750.3 C800.6 749.8 802.6 749.6 804.0 750.0 C805.4 750.4 806.8 751.4 807.7 752.7 C808.5 753.9 808.9 755.8 809.0 757.3 C809.1 758.9 809.1 760.8 808.3 762.0 C807.6 763.2 805.9 764.1 804.7 764.3 C803.4 764.6 801.8 764.2 800.7 763.7 C799.5 763.2 798.4 762.4 797.7 761.3 C796.9 760.3 796.5 758.7 796.3 757.3Z"/>
</g>
<g fill="#0000FF">
<path d="M739.5 261.8 C738.8 260.5 739.0 257.6 739.5 255.0 C740.0 252.4 741.0 248.8 742.5 246.0 C744.0 243.2 746.8 241.2 748.5 238.5 C750.2 235.8 751.5 232.0 753.0 229.5 C754.5 227.0 755.5 224.5 757.5 223.5 C759.5 222.5 762.8 224.1 765.0 223.5 C767.2 222.9 768.8 220.8 771.0 219.8 C773.2 218.8 776.8 217.1 778.5 217.5 C780.2 217.9 781.1 219.2 781.5 222.0 C781.9 224.8 781.2 230.5 780.8 234.0 C780.2 237.5 779.6 242.1 778.5 243.0 C777.4 243.9 775.6 239.8 774.0 239.2 C772.4 238.8 770.2 238.4 768.8 240.0 C767.2 241.6 766.9 246.5 765.0 249.0 C763.1 251.5 760.0 253.2 757.5 255.0 C755.0 256.8 752.2 258.2 750.0 259.5 C747.8 260.8 745.8 262.1 744.0 262.5 C742.2 262.9 740.2 263.0 739.5 261.8Z"/>
<ellipse cx="730.5" cy="211.5" rx="1.3" ry="1.6" transform="rotate(0 730.5 211.5)"/>
<ellipse cx="516.4" cy="305.2" rx="2.6" ry="2.0" transform="rotate(-30 516.4 305.2)"/>
<path d="M546.0 307.0 C546.1 305.4 548.8 301.1 550.0 299.0 C551.2 296.9 553.9 292.9 555.0 291.0 C556.1 289.1 557.1 286.2 558.0 285.0 C558.9 283.8 560.7 282.0 562.0 282.0 C563.3 282.0 565.1 284.6 568.0 285.0 C570.9 285.4 581.5 284.6 584.0 285.0 C586.5 285.4 587.0 287.3 587.0 288.0 C587.0 288.7 586.3 290.0 584.0 290.4 C581.7 290.8 572.7 290.5 570.0 291.0 C567.3 291.5 565.6 292.8 564.0 294.0 C562.4 295.2 559.5 298.1 558.0 300.0 C556.5 301.9 554.2 306.5 553.0 308.0 C551.8 309.5 549.9 311.1 549.0 311.0 C548.1 310.9 545.9 308.6 546.0 307.0Z"/>
<ellipse cx="587.6" cy="303.4" rx="0.9" ry="0.9" transform="rotate(0 587.6 303.4)"/>
<path d="M760.0 392.5 C759.7 391.2 759.9 388.2 760.6 386.7 C761.3 385.1 762.9 383.5 764.1 383.2 C765.2 382.9 766.8 384.1 767.6 384.9 C768.4 385.7 769.0 386.6 768.8 387.8 C768.5 389.1 766.9 391.4 765.8 392.5 C764.8 393.6 763.3 394.6 762.3 394.6 C761.4 394.6 760.3 393.8 760.0 392.5Z"/>
<ellipse cx="783.3" cy="403.0" rx="1.0" ry="1.3" transform="rotate(0 783.3 403.0)"/>
<ellipse cx="844.7" cy="291.3" rx="2.3" ry="3.5" transform="rotate(0 844.7 291.3)"/>
<path d="M815.8 323.6 C815.9 322.2 816.5 320.4 817.5 318.3 C818.5 316.3 821.8 309.7 823.3 308.4 C824.9 307.2 827.5 308.3 829.2 309.0 C830.9 309.7 835.1 314.1 836.2 313.7 C837.3 313.2 836.6 307.1 837.3 305.5 C838.0 303.9 840.2 301.3 841.4 301.4 C842.7 301.6 845.5 305.5 846.7 306.7 C847.8 307.8 849.2 310.2 850.2 310.2 C851.1 310.2 852.6 307.1 853.7 306.7 C854.8 306.3 857.2 306.5 858.3 307.2 C859.4 308.0 861.1 310.7 861.8 312.5 C862.6 314.3 863.1 318.3 864.2 320.7 C865.3 323.0 869.1 327.4 870.0 330.0 C870.9 332.6 870.8 337.4 871.2 340.5 C871.6 343.6 872.4 350.5 872.9 353.3 C873.4 356.1 874.2 360.5 874.7 361.5 C875.1 362.5 875.5 361.8 876.4 361.1 C877.3 360.3 880.2 357.3 881.7 355.8 C883.1 354.4 886.4 350.3 887.5 350.0 C888.6 349.7 889.2 351.9 889.8 353.5 C890.5 355.1 891.5 359.3 892.2 361.7 C892.8 364.0 893.3 369.0 894.5 371.0 C895.7 373.0 899.8 375.1 901.5 376.8 C903.2 378.5 906.1 381.7 907.3 383.8 C908.6 385.9 909.6 391.1 910.8 392.6 C912.1 394.1 915.1 394.1 916.7 394.9 C918.2 395.8 921.1 397.2 922.5 399.0 C923.9 400.8 926.1 406.0 927.2 408.3 C928.3 410.7 929.3 414.6 930.7 416.5 C932.0 418.4 935.4 421.2 937.1 422.3 C938.8 423.4 942.6 423.1 943.5 424.7 C944.4 426.2 944.7 432.1 943.5 434.0 C942.3 435.9 936.2 437.6 934.2 438.7 C932.1 439.8 930.0 442.2 928.3 442.2 C926.6 442.2 923.2 440.2 921.3 438.7 C919.5 437.1 916.2 432.8 914.3 430.5 C912.5 428.2 909.2 423.7 907.3 421.2 C905.5 418.7 902.2 414.5 900.3 411.8 C898.5 409.2 895.2 404.3 893.3 401.3 C891.5 398.4 887.9 392.6 886.3 389.7 C884.8 386.7 882.8 381.8 881.7 379.2 C880.6 376.5 878.9 371.9 878.2 369.8 C877.5 367.8 877.3 364.3 876.4 364.0 C875.5 363.7 872.8 366.5 871.2 367.5 C869.5 368.5 865.7 371.6 864.2 371.6 C862.6 371.6 860.6 369.1 859.5 367.5 C858.4 365.9 856.9 361.7 856.0 359.3 C855.1 357.0 853.7 351.4 853.1 350.0 C852.5 348.6 851.7 348.2 851.3 348.7 C850.9 349.1 851.1 352.4 850.2 353.3 C849.2 354.3 845.9 355.4 844.3 355.7 C842.8 355.9 839.9 356.1 838.5 355.4 C837.1 354.8 835.0 352.4 833.8 351.0 C832.7 349.6 831.2 346.4 829.8 345.2 C828.3 343.9 824.3 342.9 822.8 341.7 C821.2 340.4 818.9 337.5 818.1 335.8 C817.2 334.1 816.6 330.5 816.3 328.8 C816.0 327.2 815.6 325.0 815.8 323.6Z"/>
<path d="M804.9 654.9 C805.0 653.7 805.7 652.6 806.7 651.0 C807.7 649.5 809.5 646.9 811.0 645.6 C812.5 644.2 814.0 643.5 815.7 642.8 C817.4 642.2 819.6 641.7 821.1 641.7 C822.7 641.6 823.9 641.8 825.0 642.5 C826.2 643.1 827.5 644.4 828.1 645.6 C828.8 646.7 829.3 648.2 828.9 649.5 C828.5 650.8 826.8 651.9 825.8 653.3 C824.8 654.8 824.1 656.7 822.7 658.0 C821.3 659.3 819.2 660.6 817.2 661.1 C815.3 661.6 812.8 661.6 811.0 661.1 C809.2 660.6 807.4 659.1 806.3 658.0 C805.3 657.0 804.9 656.1 804.9 654.9Z"/>
<ellipse cx="812.3" cy="678.8" rx="2.5" ry="3.2" transform="rotate(15 812.3 678.8)"/>
<path d="M902.8 677.2 C902.7 676.7 902.9 674.7 903.1 674.2 C903.2 673.6 903.6 672.9 904.4 672.8 C905.3 672.6 908.9 672.4 910.0 672.8 C911.1 673.2 913.1 675.3 913.9 676.1 C914.6 676.9 916.1 678.6 916.4 679.4 C916.7 680.3 916.8 682.6 916.7 683.3 C916.5 684.0 915.5 685.3 915.0 685.6 C914.5 685.8 913.0 685.9 912.2 685.6 C911.4 685.2 909.3 683.0 908.3 682.2 C907.4 681.4 904.5 679.5 903.9 678.9 C903.2 678.3 902.9 677.8 902.8 677.2Z"/>
<path d="M798.0 757.3 C797.9 756.2 797.9 754.7 798.3 753.7 C798.7 752.7 799.4 751.7 800.3 751.3 C801.3 750.9 802.9 750.9 804.0 751.3 C805.1 751.8 806.0 752.9 806.7 754.0 C807.3 755.1 807.9 756.8 808.0 758.0 C808.1 759.2 807.7 760.6 807.0 761.3 C806.3 762.1 805.1 762.5 804.0 762.7 C802.9 762.8 801.6 762.7 800.7 762.3 C799.8 761.9 799.1 761.2 798.7 760.3 C798.2 759.5 798.1 758.4 798.0 757.3Z"/>
</g>
<g fill="#00FF00">
<path d="M742.2 258.8 C741.9 257.8 741.8 255.5 742.2 253.5 C742.6 251.5 743.5 248.9 744.8 246.8 C746.0 244.6 748.4 243.2 750.0 240.8 C751.6 238.2 753.0 234.1 754.5 231.8 C756.0 229.4 757.1 227.4 759.0 226.5 C760.9 225.6 763.6 227.2 765.8 226.5 C767.9 225.8 769.8 223.0 771.8 222.0 C773.8 221.0 776.5 220.0 777.8 220.5 C779.0 221.0 779.1 222.2 779.2 225.0 C779.4 227.8 779.2 235.1 778.5 237.0 C777.8 238.9 776.6 236.1 774.8 236.2 C772.9 236.4 769.1 235.9 767.2 237.8 C765.4 239.6 765.4 244.9 763.5 247.5 C761.6 250.1 758.5 251.9 756.0 253.5 C753.5 255.1 750.5 256.2 748.5 257.2 C746.5 258.2 745.0 259.2 744.0 259.5 C743.0 259.8 742.5 259.8 742.2 258.8Z"/>
<path d="M558.6 292.4 C558.5 291.6 558.7 290.4 559.4 289.6 C560.1 288.8 562.0 287.7 562.8 287.6 C563.6 287.5 564.3 288.5 564.2 289.2 C564.1 289.9 562.7 291.1 562.0 292.0 C561.3 292.9 560.4 294.3 559.8 294.4 C559.2 294.5 558.7 293.2 558.6 292.4Z"/>
<path d="M549.2 306.0 C549.2 304.9 550.5 302.6 551.6 301.0 C552.7 299.4 554.9 296.8 556.0 296.2 C557.1 295.6 558.0 296.4 558.0 297.4 C558.0 298.4 557.1 300.3 556.0 302.0 C554.9 303.7 552.7 306.9 551.6 307.6 C550.5 308.3 549.2 307.1 549.2 306.0Z"/>
<path d="M761.2 391.9 C761.0 390.9 761.2 388.5 761.8 387.2 C762.3 386.0 763.5 384.3 764.4 384.3 C765.4 384.3 767.4 386.1 767.6 387.2 C767.8 388.4 766.4 390.3 765.6 391.3 C764.8 392.4 763.7 393.3 762.9 393.4 C762.2 393.5 761.4 392.9 761.2 391.9Z"/>
<path d="M816.9 323.6 C817.1 322.1 818.3 319.5 819.2 317.8 C820.2 316.0 822.7 311.2 823.9 310.2 C825.2 309.2 827.1 309.5 828.6 310.2 C830.1 310.9 833.4 314.2 835.0 315.4 C836.6 316.7 839.8 319.3 840.8 319.5 C841.8 319.7 842.7 317.9 842.6 317.2 C842.5 316.4 840.7 314.8 840.2 313.7 C839.8 312.6 838.9 309.9 839.1 309.0 C839.2 308.1 840.6 306.5 841.4 306.7 C842.2 306.8 843.9 309.4 844.9 310.2 C845.9 310.9 847.9 312.7 849.0 312.5 C850.1 312.3 851.9 309.4 853.1 309.0 C854.2 308.6 856.8 308.8 857.8 309.6 C858.7 310.4 859.4 313.0 860.1 314.8 C860.8 316.6 861.8 320.7 863.0 323.0 C864.2 325.3 867.9 329.8 868.8 332.3 C869.8 334.8 869.6 338.9 870.0 341.7 C870.4 344.5 871.4 350.7 871.8 353.3 C872.1 356.0 872.8 361.2 872.9 361.5 C873.0 361.8 872.5 355.9 872.3 355.8 C872.2 355.8 872.1 359.7 871.8 361.1 C871.4 362.5 870.9 365.2 870.0 366.3 C869.1 367.5 866.0 369.8 864.8 369.8 C863.5 369.8 861.6 367.7 860.7 366.3 C859.7 364.9 858.5 361.5 857.8 359.3 C857.0 357.2 855.2 350.8 854.8 350.0 C854.4 349.2 855.1 354.1 854.8 353.3 C854.5 352.5 853.0 345.6 852.5 344.0 C852.0 342.4 851.7 341.0 851.3 341.7 C850.9 342.3 850.5 347.1 849.6 348.7 C848.7 350.2 845.8 352.7 844.3 353.3 C842.9 354.0 839.8 354.0 838.5 353.3 C837.2 352.7 835.5 350.1 834.4 348.7 C833.3 347.3 831.8 344.1 830.3 342.8 C828.9 341.6 824.8 340.4 823.3 339.3 C821.9 338.2 820.0 336.1 819.2 334.7 C818.5 333.3 817.8 330.3 817.5 328.8 C817.2 327.4 816.7 325.1 816.9 323.6Z"/>
<path d="M879.3 362.8 C879.6 361.5 880.6 360.8 881.7 359.9 C882.8 359.1 886.4 356.3 887.5 356.4 C888.6 356.5 889.4 359.2 889.8 360.5 C890.3 361.8 890.5 364.7 891.0 366.3 C891.5 368.0 892.1 371.1 893.3 372.8 C894.6 374.4 898.6 376.9 900.3 378.6 C902.0 380.2 904.8 382.9 906.2 385.0 C907.5 387.1 908.9 392.8 910.2 394.3 C911.6 395.9 915.2 395.9 916.7 396.7 C918.1 397.4 920.2 398.6 921.3 400.2 C922.5 401.7 924.4 406.1 925.4 408.3 C926.4 410.6 927.6 414.9 928.9 417.1 C930.2 419.3 933.4 422.9 935.3 424.7 C937.3 426.5 942.4 429.3 943.5 430.5 C944.6 431.7 945.1 433.1 943.5 434.0 C941.9 434.9 934.0 436.4 931.8 436.9 C929.7 437.5 928.5 438.2 927.2 438.1 C925.8 437.9 923.5 437.1 921.9 435.8 C920.3 434.4 916.8 430.4 914.9 428.2 C913.0 425.9 909.8 421.3 907.9 418.8 C906.0 416.3 902.8 412.1 900.9 409.5 C899.0 406.9 895.7 401.8 893.9 399.0 C892.1 396.2 889.0 391.3 887.5 388.5 C886.0 385.7 883.8 380.5 882.8 378.0 C881.8 375.5 880.4 371.9 879.9 369.8 C879.4 367.8 879.1 364.2 879.3 362.8Z"/>
<path d="M806.0 654.9 C806.1 653.8 806.9 652.4 807.9 651.0 C808.9 649.6 810.4 647.9 811.8 646.7 C813.2 645.6 814.9 644.7 816.5 644.0 C818.0 643.4 819.8 642.9 821.1 642.8 C822.5 642.8 823.6 643.0 824.6 643.6 C825.7 644.2 826.8 645.4 827.4 646.3 C827.9 647.3 828.2 648.4 827.7 649.5 C827.3 650.6 825.6 651.7 824.6 653.0 C823.7 654.3 823.2 656.1 821.9 657.2 C820.6 658.4 818.6 659.5 816.8 660.0 C815.1 660.4 813.0 660.4 811.4 660.0 C809.8 659.6 808.2 658.5 807.3 657.6 C806.4 656.8 805.8 656.0 806.0 654.9Z"/>
<path d="M903.9 676.9 C903.8 676.6 903.9 675.0 904.0 674.7 C904.1 674.4 904.4 674.1 905.0 674.0 C905.6 673.9 909.2 673.7 910.0 674.0 C910.8 674.3 912.2 676.1 912.8 676.7 C913.3 677.2 915.0 679.1 915.3 679.7 C915.6 680.3 915.7 682.3 915.6 682.8 C915.4 683.2 914.5 684.3 914.2 684.4 C913.8 684.6 912.8 684.8 912.2 684.4 C911.7 684.1 909.7 681.8 908.9 681.1 C908.1 680.5 904.9 678.5 904.4 678.1 C903.9 677.6 903.9 677.3 903.9 676.9Z"/>
<path d="M799.1 757.3 C799.1 756.4 799.0 754.8 799.3 754.0 C799.6 753.2 800.2 752.6 801.0 752.3 C801.8 752.1 803.2 752.1 804.0 752.5 C804.8 753.0 805.5 754.0 806.0 755.0 C806.5 756.0 806.9 757.4 806.9 758.3 C806.9 759.3 806.5 760.2 806.0 760.8 C805.5 761.4 804.5 761.8 803.7 761.9 C802.8 762.0 801.7 761.7 801.0 761.3 C800.3 761.0 799.6 760.3 799.3 759.7 C799.0 759.0 799.1 758.3 799.1 757.3Z"/>
</g>
<g fill="#00CC00">
<ellipse cx="771.8" cy="228.8" rx="3.0" ry="4.0" transform="rotate(0 771.8 228.8)"/>
<path d="M747.8 249.8 C747.9 248.5 750.1 246.6 751.5 244.5 C752.9 242.4 754.5 238.6 756.0 237.0 C757.5 235.4 759.2 234.5 760.5 234.8 C761.8 235.0 763.2 236.9 763.5 238.5 C763.8 240.1 763.2 242.8 762.0 244.5 C760.8 246.2 757.9 247.8 756.0 249.0 C754.1 250.2 752.1 251.9 750.8 252.0 C749.4 252.1 747.6 251.0 747.8 249.8Z"/>
<ellipse cx="763.8" cy="389.2" rx="1.2" ry="2.2" transform="rotate(20 763.8 389.2)"/>
<path d="M818.7 323.6 C818.8 320.9 820.5 319.1 821.6 317.2 C822.7 315.2 823.8 312.6 825.1 311.9 C826.3 311.2 827.8 311.8 829.2 313.1 C830.5 314.3 831.7 317.5 833.2 319.5 C834.8 321.5 836.5 324.0 838.5 325.3 C840.5 326.7 843.6 327.1 845.5 327.7 C847.4 328.2 849.2 327.7 850.2 328.8 C851.1 330.0 851.5 332.1 851.3 334.7 C851.1 337.2 850.0 341.5 849.0 344.0 C848.0 346.5 846.9 348.6 845.5 349.8 C844.1 351.1 842.4 351.8 840.8 351.6 C839.3 351.4 837.6 350.3 836.2 348.7 C834.7 347.0 834.0 343.5 832.1 341.7 C830.1 339.8 826.3 338.9 824.5 337.6 C822.7 336.2 822.0 335.8 821.0 333.5 C820.0 331.2 818.6 326.3 818.7 323.6Z"/>
<path d="M853.1 313.7 C853.8 312.1 856.1 311.7 857.2 312.5 C858.2 313.3 858.7 316.2 859.5 318.3 C860.3 320.5 860.6 322.6 861.8 325.3 C863.1 328.1 865.9 331.6 867.1 334.7 C868.2 337.8 868.3 340.5 868.8 344.0 C869.3 347.5 869.6 352.2 870.0 355.7 C870.4 359.2 871.2 364.4 871.2 365.0 C871.2 365.6 870.6 359.4 870.0 359.3 C869.4 359.3 868.7 363.7 867.7 364.6 C866.6 365.5 864.8 365.5 863.6 364.6 C862.4 363.7 861.5 361.8 860.7 359.3 C859.8 356.9 858.9 351.0 858.3 350.0 C857.8 349.0 857.8 354.7 857.2 353.3 C856.6 351.9 855.7 345.2 854.8 341.7 C854.0 338.2 852.5 334.5 851.9 332.3 C851.3 330.2 851.1 330.6 851.3 328.8 C851.5 327.1 852.8 324.4 853.1 321.8 C853.4 319.3 852.4 315.2 853.1 313.7Z"/>
<path d="M881.7 369.8 C881.5 368.0 882.8 366.5 884.0 366.9 C885.2 367.3 887.1 370.3 888.7 372.2 C890.2 374.0 891.4 376.1 893.3 378.0 C895.3 379.9 898.4 381.9 900.3 383.8 C902.3 385.8 903.4 387.3 905.0 389.7 C906.6 392.0 907.7 395.9 909.7 397.8 C911.6 399.8 914.7 399.8 916.7 401.3 C918.6 402.9 920.0 404.8 921.3 407.2 C922.7 409.5 923.7 412.8 924.8 415.3 C926.0 417.9 927.9 420.2 928.3 422.3 C928.7 424.5 928.0 427.0 927.2 428.2 C926.3 429.3 924.6 429.9 923.1 429.3 C921.5 428.8 919.9 426.8 917.8 424.7 C915.8 422.5 913.2 419.4 910.8 416.5 C908.5 413.6 906.2 410.5 903.8 407.2 C901.5 403.9 899.0 400.0 896.8 396.7 C894.7 393.4 892.9 390.4 891.0 387.3 C889.1 384.2 886.7 380.9 885.2 378.0 C883.6 375.1 881.9 371.7 881.7 369.8Z"/>
<path d="M807.1 654.5 C807.3 653.5 808.1 652.2 809.1 651.0 C810.0 649.8 811.6 648.5 813.0 647.5 C814.3 646.5 815.9 645.8 817.2 645.2 C818.6 644.6 820.0 644.1 821.1 644.0 C822.3 643.9 823.4 644.3 824.2 644.8 C825.1 645.3 825.9 646.3 826.2 647.1 C826.5 648.0 826.6 648.9 826.2 649.8 C825.7 650.8 824.4 651.5 823.5 652.6 C822.6 653.7 821.9 655.4 820.7 656.5 C819.6 657.5 818.0 658.4 816.5 658.8 C815.0 659.2 813.2 659.0 811.8 658.6 C810.4 658.3 809.1 657.5 808.3 656.8 C807.5 656.2 807.0 655.5 807.1 654.5Z"/>
<path d="M908.3 678.3 C908.3 677.7 909.4 677.0 910.0 676.9 C910.6 676.9 911.6 677.3 912.2 677.8 C912.9 678.3 913.6 679.3 913.9 680.0 C914.2 680.7 914.4 681.9 914.2 682.2 C913.9 682.6 912.9 682.5 912.2 682.2 C911.5 681.9 910.6 681.2 910.0 680.6 C909.4 679.9 908.3 678.9 908.3 678.3Z"/>
<ellipse cx="803.0" cy="756.7" rx="2.6" ry="3.3" transform="rotate(-10 803.0 756.7)"/>
</g>
<g fill="#009900">
<path d="M821.0 323.6 C821.0 320.9 822.4 317.7 823.3 316.0 C824.3 314.3 825.5 313.5 826.8 313.7 C828.2 313.9 830.4 315.2 831.5 317.2 C832.6 319.1 832.7 323.0 833.2 325.3 C833.8 327.7 833.9 330.2 835.0 331.2 C836.1 332.1 837.9 330.6 839.7 331.2 C841.4 331.8 844.3 333.1 845.5 334.7 C846.7 336.2 846.9 338.6 846.7 340.5 C846.5 342.4 845.4 345.1 844.3 346.3 C843.3 347.6 841.6 348.5 840.2 348.1 C838.9 347.7 837.2 345.7 836.2 344.0 C835.1 342.3 835.2 339.7 833.8 338.2 C832.5 336.6 829.8 335.6 828.0 334.7 C826.2 333.7 824.5 334.2 823.3 332.3 C822.2 330.5 821.0 326.3 821.0 323.6Z"/>
<path d="M857.2 330.0 C857.7 328.6 859.6 329.6 860.7 331.2 C861.7 332.7 862.7 336.4 863.6 339.3 C864.5 342.2 865.2 345.6 865.9 348.7 C866.6 351.8 867.3 355.3 867.7 358.0 C868.1 360.7 868.2 365.2 868.2 365.0 C868.2 364.8 868.1 357.8 867.7 357.0 C867.3 356.2 866.6 360.5 865.9 360.5 C865.2 360.5 864.4 358.6 863.6 357.0 C862.8 355.4 861.8 352.6 861.2 351.2 C860.7 349.8 860.7 350.6 860.1 348.7 C859.5 346.7 858.2 342.4 857.8 339.3 C857.3 336.2 856.7 331.4 857.2 330.0Z"/>
<path d="M886.9 379.8 C886.9 378.6 888.8 377.7 889.8 378.0 C890.9 378.3 892.4 379.9 893.3 381.5 C894.3 383.1 895.7 386.1 895.7 387.3 C895.7 388.6 894.3 389.5 893.3 389.1 C892.4 388.7 890.9 386.6 889.8 385.0 C888.8 383.4 886.9 380.9 886.9 379.8Z"/>
<path d="M899.2 396.7 C899.6 395.6 901.1 394.5 902.7 394.9 C904.2 395.3 906.4 397.0 908.5 399.0 C910.6 401.0 913.6 404.6 915.5 407.2 C917.4 409.7 919.6 412.4 920.2 414.2 C920.8 415.9 920.2 417.9 919.0 417.7 C917.8 417.5 915.5 414.9 913.2 413.0 C910.8 411.1 907.1 407.9 905.0 406.0 C902.9 404.1 901.3 402.9 900.3 401.3 C899.4 399.8 898.8 397.7 899.2 396.7Z"/>
<path d="M809.1 654.3 C809.3 653.4 809.8 652.1 810.6 651.0 C811.5 649.9 813.0 648.8 814.3 647.9 C815.6 647.0 817.1 646.4 818.4 645.9 C819.7 645.4 821.0 644.9 821.9 645.0 C822.9 645.2 823.8 645.8 824.1 646.7 C824.4 647.7 824.1 649.5 823.6 650.6 C823.1 651.8 822.0 652.7 821.1 653.7 C820.3 654.8 819.6 656.1 818.6 656.8 C817.6 657.6 816.3 658.3 815.1 658.5 C813.9 658.7 812.3 658.4 811.4 658.0 C810.5 657.7 809.8 657.1 809.5 656.5 C809.1 655.8 808.9 655.2 809.1 654.3Z"/>
</g>
<g fill="#FFFF00">
<ellipse cx="828.0" cy="324.2" rx="3.9" ry="9.0" transform="rotate(5 828.0 324.2)"/>
<ellipse cx="841.1" cy="338.8" rx="4.0" ry="5.6" transform="rotate(10 841.1 338.8)"/>
<ellipse cx="905.9" cy="401.6" rx="2.8" ry="2.8" transform="rotate(0 905.9 401.6)"/>
<path d="M810.1 654.1 C810.3 653.3 810.6 652.3 811.4 651.4 C812.2 650.5 813.7 649.5 814.9 648.7 C816.1 647.9 817.6 647.2 818.8 646.7 C820.0 646.3 821.2 645.8 821.9 646.0 C822.7 646.1 823.2 646.7 823.3 647.5 C823.4 648.3 823.2 649.6 822.7 650.6 C822.2 651.6 821.1 652.4 820.4 653.3 C819.6 654.3 818.9 655.4 818.0 656.1 C817.1 656.8 815.9 657.4 814.9 657.6 C813.9 657.8 812.6 657.5 811.8 657.2 C811.0 657.0 810.5 656.6 810.2 656.1 C809.9 655.6 809.9 654.9 810.1 654.1Z"/>
</g>
<g fill="#FFCC00">
<ellipse cx="815.0" cy="652.9" rx="1.7" ry="0.7" transform="rotate(-10 815.0 652.9)"/>
</g>
<g stroke="#a8a8a8" stroke-width="1.05" fill="none">
<path d="M271.2 124.3H934.5" stroke-dasharray="2.4 7.424"/>
<path d="M271.2 191.6H934.5" stroke-dasharray="2.4 7.424"/>
<path d="M271.2 259.0H934.5" stroke-dasharray="2.4 7.424"/>
<path d="M271.2 326.3H934.5" stroke-dasharray="2.4 7.424"/>
<path d="M271.2 393.7H934.5" stroke-dasharray="2.4 7.424"/>
<path d="M271.2 461.0H934.5" stroke-dasharray="2.4 7.424"/>
<path d="M271.2 528.4H934.5" stroke-dasharray="2.4 7.424"/>
<path d="M271.2 595.7H934.5" stroke-dasharray="2.4 7.424"/>
<path d="M271.2 663.1H934.5" stroke-dasharray="2.4 7.424"/>
<path d="M271.2 730.4H934.5" stroke-dasharray="2.4 7.424"/>
<path d="M271.2 797.8H934.5" stroke-dasharray="2.4 7.424"/>
<path d="M301.1 84.8V817.4" stroke-dasharray="2.4 7.12"/>
<path d="M359.0 84.8V817.4" stroke-dasharray="2.4 7.12"/>
<path d="M416.9 84.8V817.4" stroke-dasharray="2.4 7.12"/>
<path d="M474.8 84.8V817.4" stroke-dasharray="2.4 7.12"/>
<path d="M532.7 84.8V817.4" stroke-dasharray="2.4 7.12"/>
<path d="M590.6 84.8V817.4" stroke-dasharray="2.4 7.12"/>
<path d="M648.5 84.8V817.4" stroke-dasharray="2.4 7.12"/>
<path d="M706.4 84.8V817.4" stroke-dasharray="2.4 7.12"/>
<path d="M764.3 84.8V817.4" stroke-dasharray="2.4 7.12"/>
<path d="M822.2 84.8V817.4" stroke-dasharray="2.4 7.12"/>
<path d="M880.1 84.8V817.4" stroke-dasharray="2.4 7.12"/>
</g>
<g stroke="#000" stroke-width="0.98" fill="none" stroke-linejoin="round">
<path d="M278.0 79.4 L288.0 95.0 L295.6 102.0 L301.0 113.0 L304.0 122.0 L322.4 129.4"/>
<path d="M322.4 129.4 L324.0 123.0 L328.0 116.0 L332.0 110.0 L335.0 101.6 L344.4 99.8 L359.0 111.6 L368.0 116.0 L387.0 119.4 L473.0 159.4 L481.0 156.0 L488.0 151.0 L496.0 144.0 L500.0 142.0 L504.0 140.0 L511.0 133.6 L519.4 129.6 L526.4 135.6 L538.4 135.6 L546.0 142.0 L553.6 145.6 L561.4 154.0 L569.4 157.4 L579.6 147.6 L583.0 157.4 L588.0 165.6 L605.4 173.4 L609.0 183.0 L610.6 195.4 L622.4 195.4 L631.0 199.4 L639.4 195.6 L648.0 199.6 L662.0 211.6 L672.0 210.0 L681.0 206.0 L689.6 199.6 L700.0 197.4 L708.0 194.0 L715.0 188.0 L713.6 175.0 L712.0 164.0 L713.4 162.0"/>
<path d="M322.4 129.4 L325.6 139.4 L318.0 135.6 L310.6 141.4 L317.0 147.4 L322.6 155.6 L318.0 163.4 L307.4 161.6 L298.6 165.4 L291.4 159.8 L278.0 171.4 L295.0 179.4 L308.6 191.4 L319.0 189.6 L325.6 195.4 L327.4 207.0 L328.0 215.0 L327.0 223.0 L324.4 233.0 L332.6 229.4 L330.0 239.0 L321.0 243.0 L313.6 249.4 L303.0 252.0 L302.0 255.0 L300.6 261.0 L305.6 271.4 L301.0 279.0 L293.0 286.0 L288.0 293.4 L293.0 302.0 L291.0 313.0 L293.0 325.0 L299.0 334.0 L305.6 353.0 L331.0 393.0 L348.0 401.0 L359.0 401.0 L380.0 405.0 L388.0 408.6 L403.0 421.0 L412.0 435.0 L429.0 461.0 L437.4 465.0 L444.0 445.0 L452.4 441.0 L453.4 435.0 L453.0 435.0 L454.4 429.4 L464.0 431.4 L475.0 416.0 L481.6 409.4 L472.0 411.4 L469.0 399.0 L468.0 385.0 L456.0 385.0 L449.0 379.4 L438.0 377.0 L431.0 373.4 L420.0 357.0 L411.4 351.0 L407.6 315.0 L399.4 309.4"/>
<path d="M399.4 309.4 L407.0 314.0 L416.0 331.0 L425.0 335.0 L435.6 333.4 L441.0 341.0 L451.6 343.6 L457.0 351.6 L465.0 355.6 L470.0 363.0 L478.0 369.0 L488.0 373.4 L498.0 375.6 L489.0 379.4 L499.0 376.6 L506.0 383.0 L508.0 395.0 L517.0 403.0 L517.0 405.0 L525.0 417.0 L525.0 431.0 L520.0 439.0 L518.0 451.0 L525.0 457.4 L530.0 465.0 L536.0 470.0 L544.0 479.0 L554.0 477.0 L564.0 479.0 L573.0 483.0 L592.0 486.6 L610.4 495.0 L621.0 511.0 L631.0 513.0 L648.0 521.0 L658.0 524.6 L672.0 537.0 L677.0 545.0 L685.0 548.6 L693.0 555.0 L698.0 563.0 L705.0 569.4 L710.0 578.6 L717.0 585.0 L716.0 584.0 L722.0 594.0 L725.4 603.0 L721.6 615.0 L721.6 613.0 L724.0 625.0 L728.6 633.0 L722.0 639.0 L717.0 646.4 L727.0 644.4 L719.0 648.0 L717.0 661.0 L708.0 668.0 L702.0 674.0 L700.0 683.0 L708.0 695.0 L722.0 709.0 L729.0 718.0 L737.0 722.6 L749.0 720.6 L783.6 736.4 L788.4 729.0 L789.0 715.0 L786.0 705.0 L780.0 696.0 L764.0 689.0 L758.0 679.0 L751.4 660.6 L773.0 656.6 L784.0 673.0 L802.0 681.0 L809.6 682.4 L818.0 688.4 L806.0 688.6 L812.0 698.4 L821.0 699.0 L813.0 702.6 L818.0 711.0 L821.0 722.6 L816.0 731.0 L814.4 743.0 L825.0 752.0 L836.0 758.0 L844.0 765.0 L852.0 779.0 L858.0 791.0 L860.6 798.0 L860.6 814.4 L867.6 814.4 L869.6 802.4 L866.4 793.0 L865.0 781.0 L867.0 767.0 L872.0 758.6 L887.0 751.0 L900.0 748.6 L914.0 751.0 L930.0 756.6 L938.0 758.2"/>
<path d="M470.0 405.0 L473.0 412.0 L481.0 409.6 L476.0 415.0 L472.0 420.0"/>
<path d="M423.0 343.4 L432.0 345.6 L437.0 353.0 L427.0 355.4 L420.4 349.0 L423.0 343.4"/>
<path d="M326.0 79.4 L334.0 86.0 L350.0 94.0 L355.6 102.0 L372.0 109.6 L392.0 113.0 L401.0 117.4 L408.0 123.6 L418.0 125.6 L430.0 125.6 L440.0 127.6 L457.6 135.6 L470.0 135.6 L478.0 139.6 L488.0 138.0 L495.0 132.0 L499.0 121.0 L497.6 113.0 L499.0 99.0 L496.0 88.0 L491.0 79.4"/>
<path d="M450.0 101.4 L456.0 109.6 L447.6 113.4 L450.0 101.4"/>
<path d="M673.6 79.4 L675.0 91.0 L678.0 105.0 L682.0 119.0 L688.0 133.0 L700.0 153.0 L703.0 163.0 L712.0 162.0 L716.2 163.2 L721.5 172.5 L726.0 184.5 L728.7 191.2 L723.8 183.8 L724.2 195.0 L720.5 207.3 L728.7 203.6 L733.5 210.0 L735.0 220.5 L739.5 234.0 L744.0 246.0 L750.0 258.0 L756.0 271.5 L762.8 285.0 L760.0 279.2 L771.7 299.0 L784.5 318.8 L792.1 325.2 L811.3 355.0 L816.3 362.8 L825.1 371.4 L835.0 369.2 L838.5 379.2 L868.8 426.4 L877.6 430.5 L879.9 439.8 L886.3 449.2 L895.7 453.2 L905.0 455.0 L908.0 455.6 L915.0 457.4 L921.0 465.0 L928.0 471.0 L938.0 479.0"/>
<path d="M926.0 469.4 L920.6 471.0 L917.0 481.4 L909.0 485.0 L895.0 473.0 L890.0 465.0 L881.0 461.0 L871.0 463.0 L866.0 471.0 L873.0 485.0 L866.0 485.4 L859.0 489.0 L854.0 497.0 L853.6 581.0 L855.0 583.0 L866.0 585.0 L874.0 589.0 L881.0 596.6 L890.0 601.0 L895.0 608.6 L893.0 615.0 L892.4 617.0 L884.0 625.0 L867.6 633.0 L864.4 643.0 L857.6 649.0 L861.0 659.0 L871.0 675.0 L874.0 691.0 L875.0 713.0 L868.0 723.0 L860.0 727.4 L852.4 728.6 L848.0 735.0 L840.0 743.0 L831.6 746.6 L840.0 757.0 L854.0 765.0 L855.2 775.9 L862.8 796.8 L862.5 810.6 L860.6 814.2"/>
</g>
</g>
<rect x="262.5" y="79.3" width="675.0" height="741.1" fill="none" stroke="#000" stroke-width="1.5"/>
<path d="M257.0 124.3H262.5M257.0 191.6H262.5M257.0 259.0H262.5M257.0 326.3H262.5M257.0 393.7H262.5M257.0 461.0H262.5M257.0 528.4H262.5M257.0 595.7H262.5M257.0 663.1H262.5M257.0 730.4H262.5M257.0 797.8H262.5M301.1 820.4V825.6M359.0 820.4V825.6M416.9 820.4V825.6M474.8 820.4V825.6M532.7 820.4V825.6M590.6 820.4V825.6M648.5 820.4V825.6M706.4 820.4V825.6M764.3 820.4V825.6M822.2 820.4V825.6M880.1 820.4V825.6" stroke="#000" stroke-width="1.3" fill="none"/>
<g font-size="15.6" fill="#000" letter-spacing="0.25">
<text x="252.5" y="129.9" text-anchor="end">11.1N</text>
<text x="252.5" y="197.2" text-anchor="end">10.8N</text>
<text x="252.5" y="264.6" text-anchor="end">10.5N</text>
<text x="252.5" y="331.9" text-anchor="end">10.2N</text>
<text x="252.5" y="399.3" text-anchor="end">9.9N</text>
<text x="252.5" y="466.6" text-anchor="end">9.6N</text>
<text x="252.5" y="534.0" text-anchor="end">9.3N</text>
<text x="252.5" y="601.3" text-anchor="end">9N</text>
<text x="252.5" y="668.7" text-anchor="end">8.7N</text>
<text x="252.5" y="736.0" text-anchor="end">8.4N</text>
<text x="252.5" y="803.4" text-anchor="end">8.1N</text>
<text transform="translate(301.4 840.9) scale(0.98 1.04)" text-anchor="middle" letter-spacing="0">85.8W</text>
<text transform="translate(359.3 840.9) scale(0.98 1.04)" text-anchor="middle" letter-spacing="0">85.5W</text>
<text transform="translate(417.2 840.9) scale(0.98 1.04)" text-anchor="middle" letter-spacing="0">85.2W</text>
<text transform="translate(475.1 840.9) scale(0.98 1.04)" text-anchor="middle" letter-spacing="0">84.9W</text>
<text transform="translate(533.0 840.9) scale(0.98 1.04)" text-anchor="middle" letter-spacing="0">84.6W</text>
<text transform="translate(590.9 840.9) scale(0.98 1.04)" text-anchor="middle" letter-spacing="0">84.3W</text>
<text transform="translate(648.8 840.9) scale(0.98 1.04)" text-anchor="middle" letter-spacing="0">84W</text>
<text transform="translate(706.7 840.9) scale(0.98 1.04)" text-anchor="middle" letter-spacing="0">83.7W</text>
<text transform="translate(764.6 840.9) scale(0.98 1.04)" text-anchor="middle" letter-spacing="0">83.4W</text>
<text transform="translate(822.5 840.9) scale(0.98 1.04)" text-anchor="middle" letter-spacing="0">83.1W</text>
<text transform="translate(880.4 840.9) scale(0.98 1.04)" text-anchor="middle" letter-spacing="0">82.8W</text>
</g>
<g stroke="#000" stroke-width="1.3" stroke-linejoin="miter">
<rect x="1057.8" y="724.93" width="21.5" height="42.37" fill="#66FFFF"/>
<rect x="1057.8" y="682.56" width="21.5" height="42.37" fill="#3399FF"/>
<rect x="1057.8" y="640.19" width="21.5" height="42.37" fill="#0000FF"/>
<rect x="1057.8" y="597.82" width="21.5" height="42.37" fill="#00FF00"/>
<rect x="1057.8" y="555.45" width="21.5" height="42.37" fill="#00CC00"/>
<rect x="1057.8" y="513.08" width="21.5" height="42.37" fill="#009900"/>
<rect x="1057.8" y="470.71" width="21.5" height="42.37" fill="#FFFF00"/>
<rect x="1057.8" y="428.34" width="21.5" height="42.37" fill="#FFCC00"/>
<rect x="1057.8" y="385.97" width="21.5" height="42.37" fill="#FF6600"/>
<rect x="1057.8" y="343.60" width="21.5" height="42.37" fill="#FF0000"/>
<rect x="1057.8" y="301.23" width="21.5" height="42.37" fill="#CC3300"/>
<rect x="1057.8" y="258.86" width="21.5" height="42.37" fill="#990000"/>
<rect x="1057.8" y="216.49" width="21.5" height="42.37" fill="#FF00FF"/>
<rect x="1057.8" y="174.12" width="21.5" height="42.37" fill="#9933CC"/>
<rect x="1057.8" y="131.75" width="21.5" height="42.37" fill="#F5F5F5"/>
<path d="M1057.8 131.8L1068.5 89.8L1079.3 131.8Z" fill="#AAAAAA"/>
<path d="M1057.8 767.3L1068.5 809.8L1079.3 767.3Z" fill="#fff"/>
</g>
<g font-size="19.8" fill="#000" stroke="#fff" stroke-width="0.35" letter-spacing="2.1">
<text transform="translate(1085.8 774.5) scale(1.05 1)">3.5</text>
<text transform="translate(1085.8 732.1) scale(1.05 1)">7</text>
<text transform="translate(1085.8 689.8) scale(1.05 1)">12.5</text>
<text transform="translate(1085.8 647.4) scale(1.05 1)">15</text>
<text transform="translate(1085.8 605.0) scale(1.05 1)">20</text>
<text transform="translate(1085.8 562.6) scale(1.05 1)">25</text>
<text transform="translate(1085.8 520.3) scale(1.05 1)">30</text>
<text transform="translate(1085.8 477.9) scale(1.05 1)">40</text>
<text transform="translate(1085.8 435.5) scale(1.05 1)">50</text>
<text transform="translate(1085.8 393.2) scale(1.05 1)">60</text>
<text transform="translate(1085.8 350.8) scale(1.05 1)">75</text>
<text transform="translate(1085.8 308.4) scale(1.05 1)">90</text>
<text transform="translate(1085.8 266.1) scale(1.05 1)">100</text>
<text transform="translate(1085.8 223.7) scale(1.05 1)">120</text>
<text transform="translate(1085.8 181.3) scale(1.05 1)">150</text>
<text transform="translate(1085.8 138.9) scale(1.05 1)">200</text>
</g>
<text y="30.2" font-size="31.4" fill="#000" stroke="#fff" stroke-width="0.9"><tspan x="120.2" textLength="264.0" lengthAdjust="spacing">IMN/SARAPIQUI_5</tspan> <tspan x="400.0" textLength="192.0" lengthAdjust="spacing">Precipitacion</tspan> <tspan x="608.0" textLength="161.5" lengthAdjust="spacing">Acumulada</tspan> <tspan x="786.5" textLength="36.5" lengthAdjust="spacing">en</tspan> <tspan x="839.0" textLength="38.5" lengthAdjust="spacing">24</tspan> <tspan x="894.0" textLength="86.0" lengthAdjust="spacing">horas</tspan> <tspan x="994.0" textLength="87.0" lengthAdjust="spacing">(mm)</tspan></text>
<text y="61.8" font-size="31.4" fill="#000" stroke="#fff" stroke-width="0.9"><tspan x="490.6" textLength="203.2" lengthAdjust="spacingAndGlyphs">2026-02-03</tspan></text>
<text y="876.8" font-size="23.4" fill="#111" stroke="#fff" stroke-width="0.75"><tspan x="326.5" textLength="104.8" lengthAdjust="spacing">Instituto</tspan> <tspan x="445.5" textLength="175.0" lengthAdjust="spacing">Meteorologico</tspan> <tspan x="635.5" textLength="108.8" lengthAdjust="spacing">Nacional</tspan> <tspan x="757.5" textLength="72.5" lengthAdjust="spacing">Costa</tspan> <tspan x="844.2" textLength="54.5" lengthAdjust="spacing">Rica</tspan></text>
</svg>
</body></html>
